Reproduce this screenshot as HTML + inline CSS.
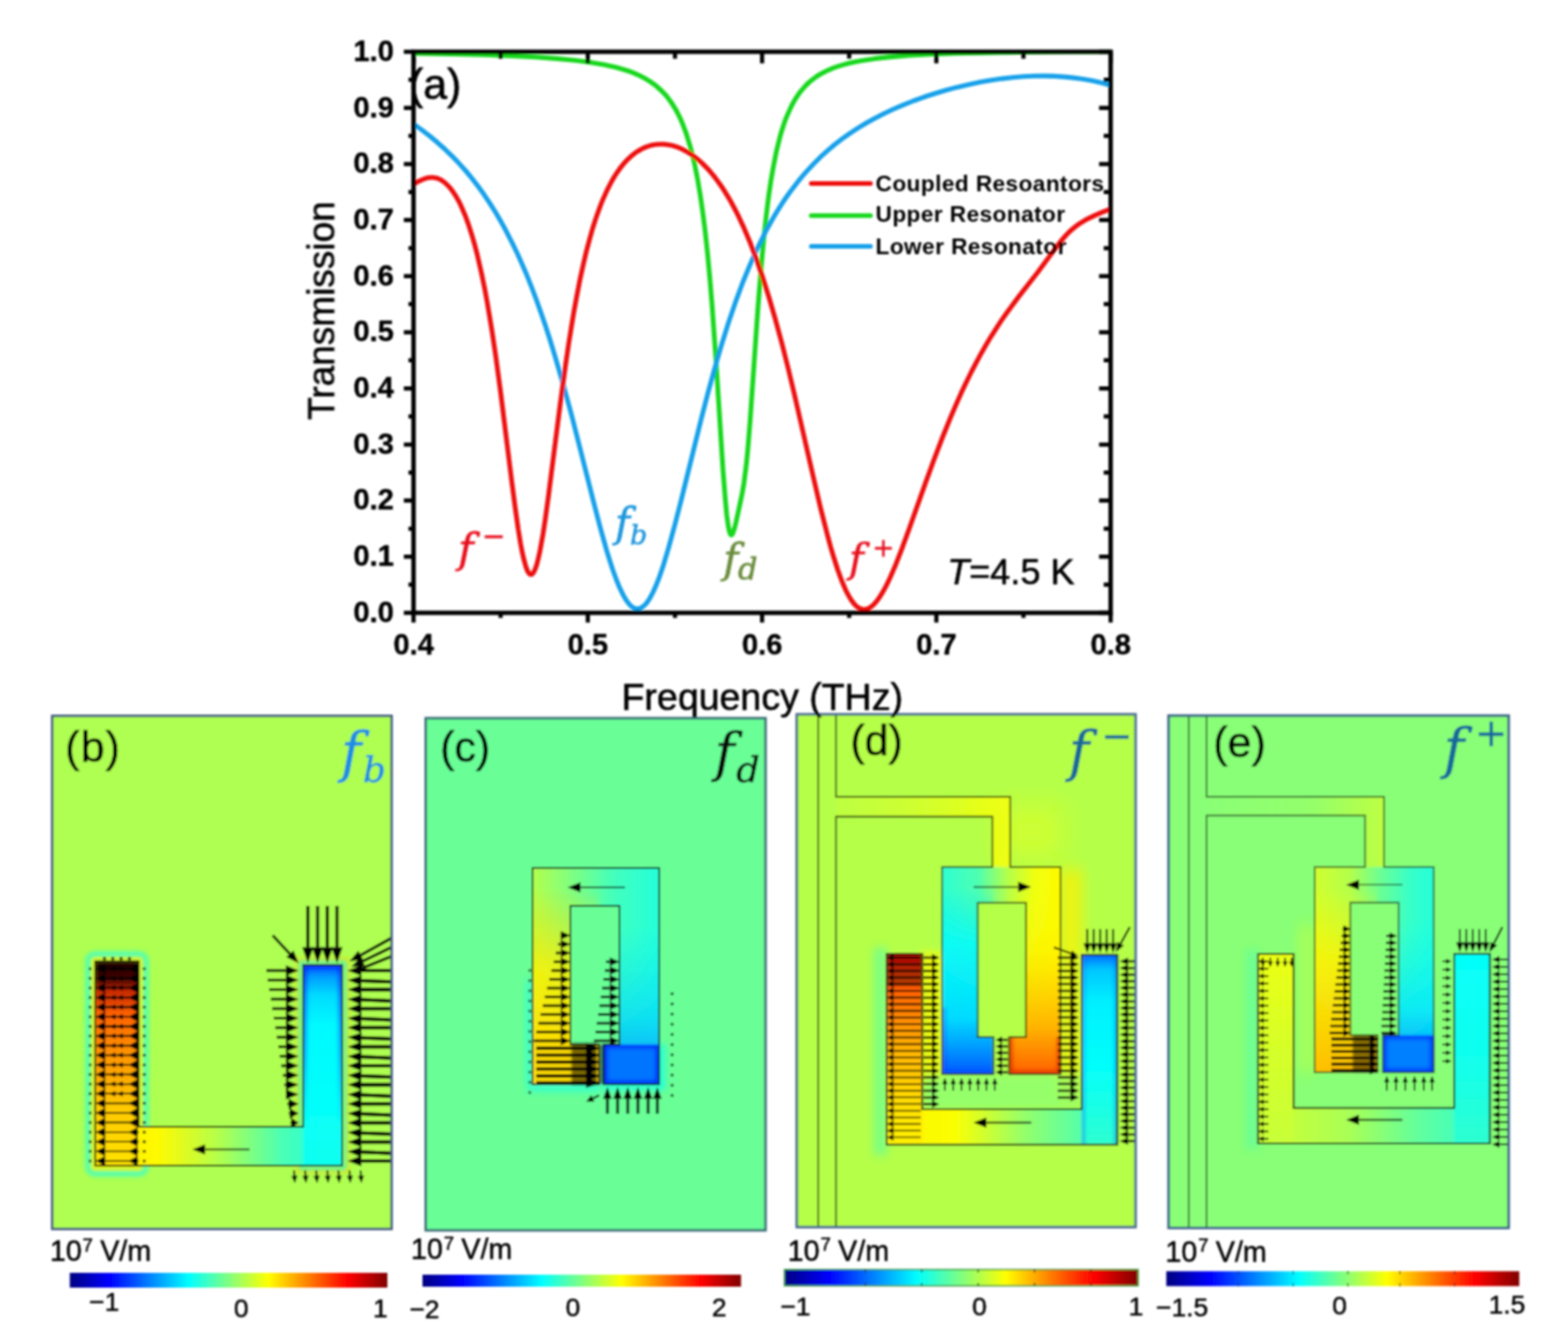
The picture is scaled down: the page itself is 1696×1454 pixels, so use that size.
<!DOCTYPE html><html><head><meta charset="utf-8"><title>Transmission figure</title><style>html,body{margin:0;padding:0;background:#fff;overflow:hidden}svg{display:block}</style></head><body><svg width="1696" height="1454" viewBox="0 0 1696 1454"><defs><linearGradient id="jetg" x1="0" x2="1" y1="0" y2="0"><stop offset="0.000" stop-color="#000080"/><stop offset="0.062" stop-color="#0000bf"/><stop offset="0.125" stop-color="#0000ff"/><stop offset="0.188" stop-color="#0040ff"/><stop offset="0.250" stop-color="#0080ff"/><stop offset="0.312" stop-color="#00bfff"/><stop offset="0.375" stop-color="#00ffff"/><stop offset="0.438" stop-color="#40ffbf"/><stop offset="0.500" stop-color="#80ff80"/><stop offset="0.562" stop-color="#bfff40"/><stop offset="0.625" stop-color="#ffff00"/><stop offset="0.688" stop-color="#ffbf00"/><stop offset="0.750" stop-color="#ff8000"/><stop offset="0.812" stop-color="#ff4000"/><stop offset="0.875" stop-color="#ff0000"/><stop offset="0.938" stop-color="#bf0000"/><stop offset="1.000" stop-color="#800000"/></linearGradient><clipPath id="plotclip"><rect x="447.3" y="56.0" width="754.0" height="607.0"/></clipPath><filter id="bl1" x="-40%" y="-40%" width="180%" height="180%"><feGaussianBlur stdDeviation="1.0"/></filter><filter id="bl2" x="-40%" y="-40%" width="180%" height="180%"><feGaussianBlur stdDeviation="2"/></filter><filter id="bl3" x="-40%" y="-40%" width="180%" height="180%"><feGaussianBlur stdDeviation="3"/></filter><filter id="bl4" x="-40%" y="-40%" width="180%" height="180%"><feGaussianBlur stdDeviation="4"/></filter><filter id="bl8" x="-40%" y="-40%" width="180%" height="180%"><feGaussianBlur stdDeviation="8"/></filter><filter id="bl14" x="-40%" y="-40%" width="180%" height="180%"><feGaussianBlur stdDeviation="14"/></filter><clipPath id="clipb"><rect x="56.5" y="774.5" width="367.0" height="555.0"/></clipPath><clipPath id="clipc"><rect x="460.5" y="777.0" width="367.5" height="554.0"/></clipPath><clipPath id="clipd"><rect x="861.8" y="772.8" width="366.4000000000001" height="554.7"/></clipPath><clipPath id="clipe"><rect x="1264.0" y="774.2" width="367.79999999999995" height="554.2"/></clipPath><linearGradient id="g1" gradientUnits="userSpaceOnUse" x1="0" y1="1040" x2="0" y2="1262"><stop offset="0" stop-color="#e50000" stop-opacity="1"/><stop offset="0.1" stop-color="#ff2400" stop-opacity="1"/><stop offset="0.25" stop-color="#ff6100" stop-opacity="1"/><stop offset="0.45" stop-color="#ff9400" stop-opacity="1"/><stop offset="0.7" stop-color="#ffc700" stop-opacity="1"/><stop offset="1" stop-color="#ffe500" stop-opacity="1"/></linearGradient><linearGradient id="g2" gradientUnits="userSpaceOnUse" x1="103" y1="0" x2="370" y2="0"><stop offset="0" stop-color="#ffe500" stop-opacity="1"/><stop offset="0.25" stop-color="#fffa00" stop-opacity="1"/><stop offset="0.5" stop-color="#b3ff4c" stop-opacity="1"/><stop offset="0.75" stop-color="#4dffb2" stop-opacity="1"/><stop offset="1" stop-color="#0ffff0" stop-opacity="1"/></linearGradient><linearGradient id="g3" gradientUnits="userSpaceOnUse" x1="0" y1="1044" x2="0" y2="1261"><stop offset="0" stop-color="#004dff" stop-opacity="1"/><stop offset="0.06" stop-color="#009eff" stop-opacity="1"/><stop offset="0.15" stop-color="#00dbff" stop-opacity="1"/><stop offset="0.3" stop-color="#00faff" stop-opacity="1"/><stop offset="0.7" stop-color="#05fffa" stop-opacity="1"/><stop offset="1" stop-color="#0ffff0" stop-opacity="1"/></linearGradient><linearGradient id="fadeB" x1="0" y1="0" x2="0" y2="1"><stop offset="0" stop-color="#fff"/><stop offset="0.5" stop-color="#fff" stop-opacity="0.6"/><stop offset="1" stop-color="#fff" stop-opacity="0"/></linearGradient><mask id="mB" maskUnits="userSpaceOnUse" x="320" y="1040" width="60" height="180"><rect x="320" y="1040" width="60" height="175" fill="url(#fadeB)"/></mask><clipPath id="c1"><path d="M328,1044 h42 v217 h-42 Z"/></clipPath><clipPath id="c2"><path d="M328,1044 h42 v30 h-42 Z"/></clipPath><linearGradient id="bDark" x1="0" y1="0" x2="0" y2="1"><stop offset="0" stop-color="#000" stop-opacity="0.88"/><stop offset="0.15" stop-color="#000" stop-opacity="0.72"/><stop offset="0.25" stop-color="#000" stop-opacity="0.22"/><stop offset="0.45" stop-color="#000" stop-opacity="0"/><stop offset="1" stop-color="#000" stop-opacity="0"/></linearGradient><clipPath id="c3"><path d="M576,939 H713 V1173 H653 V1130 H670 V980 H617 V1130 H648 V1173 H576 Z"/></clipPath><linearGradient id="g4" gradientUnits="userSpaceOnUse" x1="576" y1="0" x2="713" y2="0"><stop offset="0" stop-color="#b3ff4c" stop-opacity="1"/><stop offset="0.3" stop-color="#80ff80" stop-opacity="1"/><stop offset="0.65" stop-color="#42ffbd" stop-opacity="1"/><stop offset="1" stop-color="#24ffdb" stop-opacity="1"/></linearGradient><linearGradient id="g5" gradientUnits="userSpaceOnUse" x1="0" y1="960" x2="0" y2="1140"><stop offset="0" stop-color="#ffdb00" stop-opacity="0"/><stop offset="0.5" stop-color="#fff000" stop-opacity="0.8"/><stop offset="1" stop-color="#ffdb00" stop-opacity="1"/></linearGradient><linearGradient id="g6" gradientUnits="userSpaceOnUse" x1="0" y1="1000" x2="0" y2="1173"><stop offset="0" stop-color="#00f0ff" stop-opacity="0"/><stop offset="0.6" stop-color="#00d1ff" stop-opacity="0.7"/><stop offset="1" stop-color="#008aff" stop-opacity="1"/></linearGradient><clipPath id="c4"><path d="M653,1130 h60 v43 h-60 Z"/></clipPath><clipPath id="c5"><path d="M670,1060 h43 v113 h-43 Z"/></clipPath><clipPath id="c6"><path d="M1019,938 H1147.2 V1162 H1091.5 V1122 H1109.7 V976.6 H1057.5 V1122 H1074.5 V1162 H1019 Z"/></clipPath><linearGradient id="g7" gradientUnits="userSpaceOnUse" x1="904" y1="0" x2="1093" y2="0"><stop offset="0" stop-color="#bdff42" stop-opacity="1"/><stop offset="0.5" stop-color="#d1ff2e" stop-opacity="1"/><stop offset="1" stop-color="#f0ff0f" stop-opacity="1"/></linearGradient><linearGradient id="g8" gradientUnits="userSpaceOnUse" x1="0" y1="1032" x2="0" y2="1238"><stop offset="0" stop-color="#fa0000" stop-opacity="1"/><stop offset="0.08" stop-color="#ff3800" stop-opacity="1"/><stop offset="0.25" stop-color="#ff7500" stop-opacity="1"/><stop offset="0.5" stop-color="#ffb300" stop-opacity="1"/><stop offset="0.8" stop-color="#ffe000" stop-opacity="1"/><stop offset="1" stop-color="#fff000" stop-opacity="1"/></linearGradient><linearGradient id="g9" gradientUnits="userSpaceOnUse" x1="959" y1="0" x2="1208" y2="0"><stop offset="0" stop-color="#fff000" stop-opacity="1"/><stop offset="0.3" stop-color="#faff05" stop-opacity="1"/><stop offset="0.6" stop-color="#94ff6b" stop-opacity="1"/><stop offset="1" stop-color="#2effd1" stop-opacity="1"/></linearGradient><linearGradient id="g10" gradientUnits="userSpaceOnUse" x1="0" y1="1033" x2="0" y2="1238"><stop offset="0" stop-color="#0075ff" stop-opacity="1"/><stop offset="0.08" stop-color="#00c7ff" stop-opacity="1"/><stop offset="0.25" stop-color="#00f0ff" stop-opacity="1"/><stop offset="0.6" stop-color="#05fffa" stop-opacity="1"/><stop offset="1" stop-color="#2effd1" stop-opacity="1"/></linearGradient><clipPath id="c7"><path d="M1170,1033 h38.5 v205 h-38.5 Z"/></clipPath><linearGradient id="g11" gradientUnits="userSpaceOnUse" x1="1019" y1="0" x2="1147.2" y2="0"><stop offset="0" stop-color="#2effd1" stop-opacity="1"/><stop offset="0.3" stop-color="#4dffb2" stop-opacity="1"/><stop offset="0.55" stop-color="#b3ff4c" stop-opacity="1"/><stop offset="0.78" stop-color="#f0ff0f" stop-opacity="1"/><stop offset="1" stop-color="#fffa00" stop-opacity="1"/></linearGradient><linearGradient id="g12" gradientUnits="userSpaceOnUse" x1="0" y1="960" x2="0" y2="1162"><stop offset="0" stop-color="#00f0ff" stop-opacity="0"/><stop offset="0.3" stop-color="#00faff" stop-opacity="0.8"/><stop offset="0.7" stop-color="#00dbff" stop-opacity="1"/><stop offset="0.85" stop-color="#009eff" stop-opacity="1"/><stop offset="1" stop-color="#0057ff" stop-opacity="1"/></linearGradient><linearGradient id="g13" gradientUnits="userSpaceOnUse" x1="0" y1="960" x2="0" y2="1162"><stop offset="0" stop-color="#faff05" stop-opacity="0"/><stop offset="0.35" stop-color="#fff000" stop-opacity="0.7"/><stop offset="0.75" stop-color="#ffb300" stop-opacity="1"/><stop offset="1" stop-color="#ff6100" stop-opacity="1"/></linearGradient><clipPath id="c8"><path d="M1019,1090 h55.5 v72 h-55.5 Z"/></clipPath><clipPath id="c9"><path d="M1019,1122 h55.5 v40 h-55.5 Z"/></clipPath><clipPath id="c10"><path d="M1091.5,1122 h55.7 v40 h-55.7 Z"/></clipPath><clipPath id="c11"><path d="M1422,938 H1550.7 V1160 H1495.8 V1120 H1512.8 V976.5 H1460.6 V1120 H1490 V1160 H1422 Z"/></clipPath><linearGradient id="g14" gradientUnits="userSpaceOnUse" x1="1305" y1="0" x2="1497" y2="0"><stop offset="0" stop-color="#8aff75" stop-opacity="1"/><stop offset="0.6" stop-color="#94ff6b" stop-opacity="1"/><stop offset="1" stop-color="#bdff42" stop-opacity="1"/></linearGradient><linearGradient id="g15" gradientUnits="userSpaceOnUse" x1="0" y1="1032" x2="0" y2="1237"><stop offset="0" stop-color="#ebff14" stop-opacity="1"/><stop offset="0.5" stop-color="#d6ff29" stop-opacity="1"/><stop offset="1" stop-color="#c7ff38" stop-opacity="1"/></linearGradient><linearGradient id="g16" gradientUnits="userSpaceOnUse" x1="1360" y1="0" x2="1611" y2="0"><stop offset="0" stop-color="#d1ff2e" stop-opacity="1"/><stop offset="0.4" stop-color="#a8ff57" stop-opacity="1"/><stop offset="0.7" stop-color="#61ff9e" stop-opacity="1"/><stop offset="1" stop-color="#2effd1" stop-opacity="1"/></linearGradient><linearGradient id="g17" gradientUnits="userSpaceOnUse" x1="0" y1="1032" x2="0" y2="1237"><stop offset="0" stop-color="#05fffa" stop-opacity="1"/><stop offset="0.5" stop-color="#0ffff0" stop-opacity="1"/><stop offset="1" stop-color="#2effd1" stop-opacity="1"/></linearGradient><linearGradient id="g18" gradientUnits="userSpaceOnUse" x1="1422" y1="0" x2="1550.7" y2="0"><stop offset="0" stop-color="#d1ff2e" stop-opacity="1"/><stop offset="0.3" stop-color="#b3ff4c" stop-opacity="1"/><stop offset="0.55" stop-color="#6bff94" stop-opacity="1"/><stop offset="0.8" stop-color="#38ffc7" stop-opacity="1"/><stop offset="1" stop-color="#24ffdb" stop-opacity="1"/></linearGradient><linearGradient id="g19" gradientUnits="userSpaceOnUse" x1="0" y1="960" x2="0" y2="1160"><stop offset="0" stop-color="#fffa00" stop-opacity="0"/><stop offset="0.4" stop-color="#fff000" stop-opacity="0.8"/><stop offset="1" stop-color="#ffbd00" stop-opacity="1"/></linearGradient><linearGradient id="g20" gradientUnits="userSpaceOnUse" x1="0" y1="990" x2="0" y2="1160"><stop offset="0" stop-color="#05fffa" stop-opacity="0"/><stop offset="0.6" stop-color="#00e5ff" stop-opacity="0.8"/><stop offset="1" stop-color="#008aff" stop-opacity="1"/></linearGradient><clipPath id="c12"><path d="M1495.8,1120 h55 v40 h-55 Z"/></clipPath><filter id="soft" x="0" y="0" width="1696" height="1454" filterUnits="userSpaceOnUse"><feGaussianBlur stdDeviation="0.8"/></filter></defs><rect width="1696" height="1454" fill="#fff"/><g filter="url(#soft)"><rect x="56.5" y="774.5" width="367.0" height="555.0" fill="#aeff51"/>
<rect x="460.5" y="777.0" width="367.5" height="554.0" fill="#69ff96"/>
<rect x="861.8" y="772.8" width="366.4000000000001" height="554.7" fill="#b5ff4a"/>
<rect x="1264.0" y="774.2" width="367.79999999999995" height="554.2" fill="#88ff77"/>
<g clip-path="url(#clipb)"><g filter="url(#bl1)">
<rect x="96" y="1033" width="61" height="236" rx="6" fill="none" stroke="#1affe5" stroke-width="6" filter="url(#bl2)" opacity="0.85"/>
<rect x="101" y="1038" width="51" height="226" fill="none" stroke="#fff000" stroke-width="4" filter="url(#bl2)"/>
<rect x="323" y="1039" width="52" height="227" fill="none" stroke="#ffdb00" stroke-width="5" filter="url(#bl2)" opacity="0.9"/>
<rect x="325" y="1041" width="48" height="223" fill="none" stroke="#05fffa" stroke-width="3" filter="url(#bl2)" opacity="0.9"/>
<rect x="103" y="1040" width="47" height="222" fill="url(#g1)"/>
<rect x="149" y="1219" width="180" height="42" fill="url(#g2)"/>
<rect x="328" y="1044" width="42" height="217" fill="url(#g3)"/>
<g mask="url(#mB)">
<g clip-path="url(#c1)"><path d="M322,1044 H376 M328,1038 V1267 M370,1038 V1267" fill="none" stroke="#000fff" stroke-width="6" filter="url(#bl2)" opacity="0.85"/></g>
</g>
<g clip-path="url(#c2)"><path d="M322,1044 H376" fill="none" stroke="#000fff" stroke-width="10" filter="url(#bl2)" opacity="0.8"/></g>
<rect x="103" y="1040" width="47" height="130" fill="url(#bDark)"/>
</g>
<path d="M103,1040 H150 V1219 H328 V1044 H370 V1261 H103 Z" fill="none" stroke="#111" stroke-width="1.8"/>
<path d="M148.0,1048.0 L113.8,1048.0" stroke="#000" stroke-width="2.295"/><path d="M103.5,1048.0 L113.8,1042.6 L113.8,1053.4 Z" fill="#000"/>
<path d="M150.0,1048.0 L148.9,1048.0" stroke="#000" stroke-width="2.7"/><path d="M139.0,1048.0 L148.9,1042.6 L148.9,1053.4 Z" fill="#000"/>
<path d="M118,1048.0 L125,1045.0 L125,1051.0 Z M126,1048.0 L133,1045.0 L133,1051.0 Z" fill="#000"/>
<circle cx="97.5" cy="1048.0" r="1.6" fill="#000"/><circle cx="156" cy="1048.0" r="1.6" fill="#000"/>
<path d="M148.0,1058.4 L113.8,1058.4" stroke="#000" stroke-width="2.2545"/><path d="M103.5,1058.4 L113.8,1053.0 L113.8,1063.8 Z" fill="#000"/>
<path d="M150.0,1058.4 L148.9,1058.4" stroke="#000" stroke-width="2.7"/><path d="M139.0,1058.4 L148.9,1053.0 L148.9,1063.8 Z" fill="#000"/>
<path d="M118,1058.4 L125,1055.4 L125,1061.4 Z M126,1058.4 L133,1055.4 L133,1061.4 Z" fill="#000"/>
<circle cx="97.5" cy="1058.4" r="1.6" fill="#000"/><circle cx="156" cy="1058.4" r="1.6" fill="#000"/>
<path d="M148.0,1068.8 L113.8,1068.8" stroke="#000" stroke-width="2.214"/><path d="M103.5,1068.8 L113.8,1063.4 L113.8,1074.2 Z" fill="#000"/>
<path d="M150.0,1068.8 L148.9,1068.8" stroke="#000" stroke-width="2.7"/><path d="M139.0,1068.8 L148.9,1063.4 L148.9,1074.2 Z" fill="#000"/>
<path d="M118,1068.8 L125,1065.8 L125,1071.8 Z M126,1068.8 L133,1065.8 L133,1071.8 Z" fill="#000"/>
<circle cx="97.5" cy="1068.8" r="1.6" fill="#000"/><circle cx="156" cy="1068.8" r="1.6" fill="#000"/>
<path d="M148.0,1079.2 L113.8,1079.2" stroke="#000" stroke-width="2.1734999999999998"/><path d="M103.5,1079.2 L113.8,1073.8 L113.8,1084.6 Z" fill="#000"/>
<path d="M150.0,1079.2 L148.9,1079.2" stroke="#000" stroke-width="2.7"/><path d="M139.0,1079.2 L148.9,1073.8 L148.9,1084.6 Z" fill="#000"/>
<path d="M118,1079.2 L125,1076.2 L125,1082.2 Z M126,1079.2 L133,1076.2 L133,1082.2 Z" fill="#000"/>
<circle cx="97.5" cy="1079.2" r="1.6" fill="#000"/><circle cx="156" cy="1079.2" r="1.6" fill="#000"/>
<path d="M148.0,1089.6 L113.8,1089.6" stroke="#000" stroke-width="2.1330000000000005"/><path d="M103.5,1089.6 L113.8,1084.2 L113.8,1095.0 Z" fill="#000"/>
<path d="M150.0,1089.6 L148.9,1089.6" stroke="#000" stroke-width="2.7"/><path d="M139.0,1089.6 L148.9,1084.2 L148.9,1095.0 Z" fill="#000"/>
<path d="M118,1089.6 L125,1086.6 L125,1092.6 Z M126,1089.6 L133,1086.6 L133,1092.6 Z" fill="#000"/>
<circle cx="97.5" cy="1089.6" r="1.6" fill="#000"/><circle cx="156" cy="1089.6" r="1.6" fill="#000"/>
<path d="M148.0,1100.0 L113.8,1100.0" stroke="#000" stroke-width="2.0925000000000002"/><path d="M103.5,1100.0 L113.8,1094.6 L113.8,1105.4 Z" fill="#000"/>
<path d="M150.0,1100.0 L148.9,1100.0" stroke="#000" stroke-width="2.7"/><path d="M139.0,1100.0 L148.9,1094.6 L148.9,1105.4 Z" fill="#000"/>
<path d="M118,1100.0 L125,1097.0 L125,1103.0 Z M126,1100.0 L133,1097.0 L133,1103.0 Z" fill="#000"/>
<circle cx="97.5" cy="1100.0" r="1.6" fill="#000"/><circle cx="156" cy="1100.0" r="1.6" fill="#000"/>
<path d="M148.0,1110.4 L113.8,1110.4" stroke="#000" stroke-width="2.052"/><path d="M103.5,1110.4 L113.8,1105.0 L113.8,1115.8 Z" fill="#000"/>
<path d="M150.0,1110.4 L148.9,1110.4" stroke="#000" stroke-width="2.7"/><path d="M139.0,1110.4 L148.9,1105.0 L148.9,1115.8 Z" fill="#000"/>
<path d="M118,1110.4 L125,1107.4 L125,1113.4 Z M126,1110.4 L133,1107.4 L133,1113.4 Z" fill="#000"/>
<circle cx="97.5" cy="1110.4" r="1.6" fill="#000"/><circle cx="156" cy="1110.4" r="1.6" fill="#000"/>
<path d="M148.0,1120.8 L113.8,1120.8" stroke="#000" stroke-width="2.0115000000000003"/><path d="M103.5,1120.8 L113.8,1115.4 L113.8,1126.2 Z" fill="#000"/>
<path d="M150.0,1120.8 L148.9,1120.8" stroke="#000" stroke-width="2.7"/><path d="M139.0,1120.8 L148.9,1115.4 L148.9,1126.2 Z" fill="#000"/>
<path d="M118,1120.8 L125,1117.8 L125,1123.8 Z M126,1120.8 L133,1117.8 L133,1123.8 Z" fill="#000"/>
<circle cx="97.5" cy="1120.8" r="1.6" fill="#000"/><circle cx="156" cy="1120.8" r="1.6" fill="#000"/>
<path d="M148.0,1131.2 L113.8,1131.2" stroke="#000" stroke-width="1.971"/><path d="M103.5,1131.2 L113.8,1125.8 L113.8,1136.6 Z" fill="#000"/>
<path d="M150.0,1131.2 L148.9,1131.2" stroke="#000" stroke-width="2.7"/><path d="M139.0,1131.2 L148.9,1125.8 L148.9,1136.6 Z" fill="#000"/>
<path d="M118,1131.2 L125,1128.2 L125,1134.2 Z M126,1131.2 L133,1128.2 L133,1134.2 Z" fill="#000"/>
<circle cx="97.5" cy="1131.2" r="1.6" fill="#000"/><circle cx="156" cy="1131.2" r="1.6" fill="#000"/>
<path d="M148.0,1141.6 L113.8,1141.6" stroke="#000" stroke-width="1.9305"/><path d="M103.5,1141.6 L113.8,1136.2 L113.8,1147.0 Z" fill="#000"/>
<path d="M150.0,1141.6 L148.9,1141.6" stroke="#000" stroke-width="2.7"/><path d="M139.0,1141.6 L148.9,1136.2 L148.9,1147.0 Z" fill="#000"/>
<path d="M118,1141.6 L125,1138.6 L125,1144.6 Z M126,1141.6 L133,1138.6 L133,1144.6 Z" fill="#000"/>
<circle cx="97.5" cy="1141.6" r="1.6" fill="#000"/><circle cx="156" cy="1141.6" r="1.6" fill="#000"/>
<path d="M148.0,1152.0 L113.8,1152.0" stroke="#000" stroke-width="1.89"/><path d="M103.5,1152.0 L113.8,1146.6 L113.8,1157.4 Z" fill="#000"/>
<path d="M150.0,1152.0 L148.9,1152.0" stroke="#000" stroke-width="2.7"/><path d="M139.0,1152.0 L148.9,1146.6 L148.9,1157.4 Z" fill="#000"/>
<path d="M118,1152.0 L125,1149.0 L125,1155.0 Z M126,1152.0 L133,1149.0 L133,1155.0 Z" fill="#000"/>
<circle cx="97.5" cy="1152.0" r="1.6" fill="#000"/><circle cx="156" cy="1152.0" r="1.6" fill="#000"/>
<path d="M148.0,1162.4 L113.8,1162.4" stroke="#000" stroke-width="1.8495"/><path d="M103.5,1162.4 L113.8,1157.0 L113.8,1167.8 Z" fill="#000"/>
<path d="M150.0,1162.4 L148.9,1162.4" stroke="#000" stroke-width="2.7"/><path d="M139.0,1162.4 L148.9,1157.0 L148.9,1167.8 Z" fill="#000"/>
<path d="M118,1162.4 L125,1159.4 L125,1165.4 Z M126,1162.4 L133,1159.4 L133,1165.4 Z" fill="#000"/>
<circle cx="97.5" cy="1162.4" r="1.6" fill="#000"/><circle cx="156" cy="1162.4" r="1.6" fill="#000"/>
<path d="M148.0,1172.8 L113.8,1172.8" stroke="#000" stroke-width="1.809"/><path d="M103.5,1172.8 L113.8,1167.4 L113.8,1178.2 Z" fill="#000"/>
<path d="M150.0,1172.8 L148.9,1172.8" stroke="#000" stroke-width="2.7"/><path d="M139.0,1172.8 L148.9,1167.4 L148.9,1178.2 Z" fill="#000"/>
<path d="M118,1172.8 L125,1169.8 L125,1175.8 Z M126,1172.8 L133,1169.8 L133,1175.8 Z" fill="#000"/>
<circle cx="97.5" cy="1172.8" r="1.6" fill="#000"/><circle cx="156" cy="1172.8" r="1.6" fill="#000"/>
<path d="M148.0,1183.2 L113.8,1183.2" stroke="#000" stroke-width="1.7685000000000002"/><path d="M103.5,1183.2 L113.8,1177.8 L113.8,1188.6 Z" fill="#000"/>
<path d="M150.0,1183.2 L148.9,1183.2" stroke="#000" stroke-width="2.7"/><path d="M139.0,1183.2 L148.9,1177.8 L148.9,1188.6 Z" fill="#000"/>
<path d="M118,1183.2 L125,1180.2 L125,1186.2 Z M126,1183.2 L133,1180.2 L133,1186.2 Z" fill="#000"/>
<circle cx="97.5" cy="1183.2" r="1.6" fill="#000"/><circle cx="156" cy="1183.2" r="1.6" fill="#000"/>
<path d="M148.0,1193.6 L113.8,1193.6" stroke="#000" stroke-width="1.7280000000000002"/><path d="M103.5,1193.6 L113.8,1188.2 L113.8,1199.0 Z" fill="#000"/>
<path d="M150.0,1193.6 L148.9,1193.6" stroke="#000" stroke-width="2.7"/><path d="M139.0,1193.6 L148.9,1188.2 L148.9,1199.0 Z" fill="#000"/>
<circle cx="97.5" cy="1193.6" r="1.6" fill="#000"/><circle cx="156" cy="1193.6" r="1.6" fill="#000"/>
<path d="M148.0,1204.0 L113.8,1204.0" stroke="#000" stroke-width="1.6875"/><path d="M103.5,1204.0 L113.8,1198.6 L113.8,1209.4 Z" fill="#000"/>
<path d="M150.0,1204.0 L148.9,1204.0" stroke="#000" stroke-width="2.7"/><path d="M139.0,1204.0 L148.9,1198.6 L148.9,1209.4 Z" fill="#000"/>
<circle cx="97.5" cy="1204.0" r="1.6" fill="#000"/><circle cx="156" cy="1204.0" r="1.6" fill="#000"/>
<path d="M148.0,1214.4 L113.8,1214.4" stroke="#000" stroke-width="1.647"/><path d="M103.5,1214.4 L113.8,1209.0 L113.8,1219.8 Z" fill="#000"/>
<path d="M150.0,1214.4 L148.9,1214.4" stroke="#000" stroke-width="2.7"/><path d="M139.0,1214.4 L148.9,1209.0 L148.9,1219.8 Z" fill="#000"/>
<circle cx="97.5" cy="1214.4" r="1.6" fill="#000"/><circle cx="156" cy="1214.4" r="1.6" fill="#000"/>
<path d="M148.0,1224.8 L113.8,1224.8" stroke="#000" stroke-width="1.6065"/><path d="M103.5,1224.8 L113.8,1219.4 L113.8,1230.2 Z" fill="#000"/>
<path d="M150.0,1224.8 L148.9,1224.8" stroke="#000" stroke-width="2.7"/><path d="M139.0,1224.8 L148.9,1219.4 L148.9,1230.2 Z" fill="#000"/>
<circle cx="97.5" cy="1224.8" r="1.6" fill="#000"/><circle cx="156" cy="1224.8" r="1.6" fill="#000"/>
<path d="M148.0,1235.2 L113.8,1235.2" stroke="#000" stroke-width="1.566"/><path d="M103.5,1235.2 L113.8,1229.8 L113.8,1240.6 Z" fill="#000"/>
<path d="M150.0,1235.2 L148.9,1235.2" stroke="#000" stroke-width="2.7"/><path d="M139.0,1235.2 L148.9,1229.8 L148.9,1240.6 Z" fill="#000"/>
<circle cx="97.5" cy="1235.2" r="1.6" fill="#000"/><circle cx="156" cy="1235.2" r="1.6" fill="#000"/>
<path d="M148.0,1245.6 L113.8,1245.6" stroke="#000" stroke-width="1.5254999999999999"/><path d="M103.5,1245.6 L113.8,1240.2 L113.8,1251.0 Z" fill="#000"/>
<path d="M150.0,1245.6 L148.9,1245.6" stroke="#000" stroke-width="2.7"/><path d="M139.0,1245.6 L148.9,1240.2 L148.9,1251.0 Z" fill="#000"/>
<circle cx="97.5" cy="1245.6" r="1.6" fill="#000"/><circle cx="156" cy="1245.6" r="1.6" fill="#000"/>
<path d="M148.0,1256.0 L113.8,1256.0" stroke="#000" stroke-width="1.4850000000000003"/><path d="M103.5,1256.0 L113.8,1250.6 L113.8,1261.4 Z" fill="#000"/>
<path d="M150.0,1256.0 L148.9,1256.0" stroke="#000" stroke-width="2.7"/><path d="M139.0,1256.0 L148.9,1250.6 L148.9,1261.4 Z" fill="#000"/>
<circle cx="97.5" cy="1256.0" r="1.6" fill="#000"/><circle cx="156" cy="1256.0" r="1.6" fill="#000"/>
<circle cx="113" cy="1037" r="1.8" fill="#000"/>
<circle cx="122" cy="1037" r="1.8" fill="#000"/>
<circle cx="131" cy="1037" r="1.8" fill="#000"/>
<circle cx="140" cy="1037" r="1.8" fill="#000"/>
<path d="M333.0,980.0 L333.0,1024.8" stroke="#000" stroke-width="3.5100000000000002"/><path d="M333.0,1042.0 L326.9,1024.8 L339.1,1024.8 Z" fill="#000"/>
<path d="M343.5,980.0 L343.5,1024.8" stroke="#000" stroke-width="3.5100000000000002"/><path d="M343.5,1042.0 L337.4,1024.8 L349.6,1024.8 Z" fill="#000"/>
<path d="M354.0,980.0 L354.0,1024.8" stroke="#000" stroke-width="3.5100000000000002"/><path d="M354.0,1042.0 L347.9,1024.8 L360.1,1024.8 Z" fill="#000"/>
<path d="M364.5,980.0 L364.5,1024.8" stroke="#000" stroke-width="3.5100000000000002"/><path d="M364.5,1042.0 L358.4,1024.8 L370.6,1024.8 Z" fill="#000"/>
<path d="M295.0,1012.0 L313.6,1031.9" stroke="#000" stroke-width="2.9700000000000006"/><path d="M323.0,1042.0 L309.6,1035.6 L317.5,1028.2 Z" fill="#000"/>
<path d="M425.0,1014.0 L390.1,1033.3" stroke="#000" stroke-width="3.24"/><path d="M378.0,1040.0 L387.5,1028.6 L392.7,1038.0 Z" fill="#000"/>
<path d="M425.0,1024.0 L392.4,1039.9" stroke="#000" stroke-width="3.24"/><path d="M380.0,1046.0 L390.0,1035.1 L394.8,1044.8 Z" fill="#000"/>
<path d="M425.0,1034.0 L392.8,1046.9" stroke="#000" stroke-width="3.24"/><path d="M380.0,1052.0 L390.8,1041.9 L394.8,1051.9 Z" fill="#000"/>
<path d="M288.0,1050.0 L309.2,1050.0" stroke="#000" stroke-width="2.9700000000000006"/><path d="M323.0,1050.0 L309.2,1055.7 L309.2,1044.3 Z" fill="#000"/>
<path d="M289.6,1060.3 L309.2,1060.3" stroke="#000" stroke-width="2.9700000000000006"/><path d="M323.0,1060.3 L309.2,1066.0 L309.2,1054.6 Z" fill="#000"/>
<path d="M291.2,1070.6 L309.2,1070.6" stroke="#000" stroke-width="2.9700000000000006"/><path d="M323.0,1070.6 L309.2,1076.3 L309.2,1064.9 Z" fill="#000"/>
<path d="M292.9,1080.9 L309.2,1080.9" stroke="#000" stroke-width="2.9700000000000006"/><path d="M323.0,1080.9 L309.2,1086.6 L309.2,1075.2 Z" fill="#000"/>
<path d="M294.5,1091.2 L309.2,1091.2" stroke="#000" stroke-width="2.9700000000000006"/><path d="M323.0,1091.2 L309.2,1096.9 L309.2,1085.5 Z" fill="#000"/>
<path d="M296.1,1101.5 L309.2,1101.5" stroke="#000" stroke-width="2.9700000000000006"/><path d="M323.0,1101.5 L309.2,1107.2 L309.2,1095.8 Z" fill="#000"/>
<path d="M297.8,1111.8 L309.2,1111.8" stroke="#000" stroke-width="2.9700000000000006"/><path d="M323.0,1111.8 L309.2,1117.5 L309.2,1106.1 Z" fill="#000"/>
<path d="M299.4,1122.1 L309.2,1122.1" stroke="#000" stroke-width="2.9700000000000006"/><path d="M323.0,1122.1 L309.2,1127.8 L309.2,1116.4 Z" fill="#000"/>
<path d="M301.0,1132.4 L309.2,1132.4" stroke="#000" stroke-width="2.9700000000000006"/><path d="M323.0,1132.4 L309.2,1138.1 L309.2,1126.7 Z" fill="#000"/>
<path d="M302.6,1142.7 L309.2,1142.7" stroke="#000" stroke-width="2.9700000000000006"/><path d="M323.0,1142.7 L309.2,1148.4 L309.2,1137.0 Z" fill="#000"/>
<path d="M304.2,1153.0 L309.2,1153.0" stroke="#000" stroke-width="2.9700000000000006"/><path d="M323.0,1153.0 L309.2,1158.7 L309.2,1147.3 Z" fill="#000"/>
<path d="M305.9,1163.3 L309.2,1163.3" stroke="#000" stroke-width="2.9700000000000006"/><path d="M323.0,1163.3 L309.2,1169.0 L309.2,1157.6 Z" fill="#000"/>
<path d="M307.5,1173.6 L309.2,1173.6" stroke="#000" stroke-width="2.9700000000000006"/><path d="M323.0,1173.6 L309.2,1179.3 L309.2,1167.9 Z" fill="#000"/>
<path d="M309.1,1183.9 L309.2,1183.9" stroke="#000" stroke-width="2.9700000000000006"/><path d="M323.0,1183.9 L309.2,1189.6 L309.2,1178.2 Z" fill="#000"/>
<path d="M310.8,1194.2 L312.0,1194.2" stroke="#000" stroke-width="2.9700000000000006"/><path d="M323.0,1194.2 L312.0,1199.9 L312.0,1188.5 Z" fill="#000"/>
<path d="M312.4,1204.5 L313.4,1204.5" stroke="#000" stroke-width="2.9700000000000006"/><path d="M323.0,1204.5 L313.4,1210.2 L313.4,1198.8 Z" fill="#000"/>
<path d="M314.0,1214.8 L314.9,1214.8" stroke="#000" stroke-width="2.9700000000000006"/><path d="M323.0,1214.8 L314.9,1220.5 L314.9,1209.1 Z" fill="#000"/>
<path d="M425.0,1050.0 L390.9,1050.0" stroke="#000" stroke-width="4.050000000000001"/><path d="M376.0,1050.0 L390.9,1044.3 L390.9,1055.7 Z" fill="#000"/>
<path d="M425.0,1062.3 L390.9,1060.9" stroke="#000" stroke-width="4.050000000000001"/><path d="M376.0,1060.3 L391.2,1055.2 L390.7,1066.6 Z" fill="#000"/>
<path d="M425.0,1070.6 L390.9,1070.6" stroke="#000" stroke-width="4.050000000000001"/><path d="M376.0,1070.6 L390.9,1064.9 L390.9,1076.3 Z" fill="#000"/>
<path d="M425.0,1082.9 L390.9,1081.5" stroke="#000" stroke-width="4.050000000000001"/><path d="M376.0,1080.9 L391.2,1075.8 L390.7,1087.2 Z" fill="#000"/>
<path d="M425.0,1091.2 L390.9,1091.2" stroke="#000" stroke-width="4.050000000000001"/><path d="M376.0,1091.2 L390.9,1085.5 L390.9,1096.9 Z" fill="#000"/>
<path d="M425.0,1103.5 L390.9,1102.1" stroke="#000" stroke-width="4.050000000000001"/><path d="M376.0,1101.5 L391.2,1096.4 L390.7,1107.8 Z" fill="#000"/>
<path d="M425.0,1111.8 L390.9,1111.8" stroke="#000" stroke-width="4.050000000000001"/><path d="M376.0,1111.8 L390.9,1106.1 L390.9,1117.5 Z" fill="#000"/>
<path d="M425.0,1124.1 L390.9,1122.7" stroke="#000" stroke-width="4.050000000000001"/><path d="M376.0,1122.1 L391.2,1117.0 L390.7,1128.4 Z" fill="#000"/>
<path d="M425.0,1132.4 L390.9,1132.4" stroke="#000" stroke-width="4.050000000000001"/><path d="M376.0,1132.4 L390.9,1126.7 L390.9,1138.1 Z" fill="#000"/>
<path d="M425.0,1144.7 L390.9,1143.3" stroke="#000" stroke-width="4.050000000000001"/><path d="M376.0,1142.7 L391.2,1137.6 L390.7,1149.0 Z" fill="#000"/>
<path d="M425.0,1153.0 L390.9,1153.0" stroke="#000" stroke-width="4.050000000000001"/><path d="M376.0,1153.0 L390.9,1147.3 L390.9,1158.7 Z" fill="#000"/>
<path d="M425.0,1165.3 L390.9,1163.9" stroke="#000" stroke-width="4.050000000000001"/><path d="M376.0,1163.3 L391.2,1158.2 L390.7,1169.6 Z" fill="#000"/>
<path d="M425.0,1173.6 L390.9,1173.6" stroke="#000" stroke-width="4.050000000000001"/><path d="M376.0,1173.6 L390.9,1167.9 L390.9,1179.3 Z" fill="#000"/>
<path d="M425.0,1185.9 L390.9,1184.5" stroke="#000" stroke-width="4.050000000000001"/><path d="M376.0,1183.9 L391.2,1178.8 L390.7,1190.2 Z" fill="#000"/>
<path d="M425.0,1194.2 L390.9,1194.2" stroke="#000" stroke-width="4.050000000000001"/><path d="M376.0,1194.2 L390.9,1188.5 L390.9,1199.9 Z" fill="#000"/>
<path d="M425.0,1206.5 L390.9,1205.1" stroke="#000" stroke-width="4.050000000000001"/><path d="M376.0,1204.5 L391.2,1199.4 L390.7,1210.8 Z" fill="#000"/>
<path d="M425.0,1214.8 L390.9,1214.8" stroke="#000" stroke-width="4.050000000000001"/><path d="M376.0,1214.8 L390.9,1209.1 L390.9,1220.5 Z" fill="#000"/>
<path d="M425.0,1227.1 L390.9,1225.7" stroke="#000" stroke-width="4.050000000000001"/><path d="M376.0,1225.1 L391.2,1220.0 L390.7,1231.4 Z" fill="#000"/>
<path d="M425.0,1235.4 L390.9,1235.4" stroke="#000" stroke-width="4.050000000000001"/><path d="M376.0,1235.4 L390.9,1229.7 L390.9,1241.1 Z" fill="#000"/>
<path d="M425.0,1247.7 L390.9,1246.3" stroke="#000" stroke-width="4.050000000000001"/><path d="M376.0,1245.7 L391.2,1240.6 L390.7,1252.0 Z" fill="#000"/>
<path d="M425.0,1256.0 L390.9,1256.0" stroke="#000" stroke-width="4.050000000000001"/><path d="M376.0,1256.0 L390.9,1250.3 L390.9,1261.7 Z" fill="#000"/>
<path d="M318.0,1266.0 L318.4,1272.0" stroke="#000" stroke-width="2.0250000000000004"/><path d="M319.0,1280.0 L315.1,1272.2 L321.8,1271.7 Z" fill="#000"/>
<path d="M330.0,1266.0 L330.4,1272.0" stroke="#000" stroke-width="2.0250000000000004"/><path d="M331.0,1280.0 L327.1,1272.2 L333.8,1271.7 Z" fill="#000"/>
<path d="M342.0,1266.0 L342.4,1272.0" stroke="#000" stroke-width="2.0250000000000004"/><path d="M343.0,1280.0 L339.1,1272.2 L345.8,1271.7 Z" fill="#000"/>
<path d="M354.0,1266.0 L354.4,1272.0" stroke="#000" stroke-width="2.0250000000000004"/><path d="M355.0,1280.0 L351.1,1272.2 L357.8,1271.7 Z" fill="#000"/>
<path d="M366.0,1266.0 L366.4,1272.0" stroke="#000" stroke-width="2.0250000000000004"/><path d="M367.0,1280.0 L363.1,1272.2 L369.8,1271.7 Z" fill="#000"/>
<path d="M378.0,1266.0 L378.4,1272.0" stroke="#000" stroke-width="2.0250000000000004"/><path d="M379.0,1280.0 L375.1,1272.2 L381.8,1271.7 Z" fill="#000"/>
<path d="M390.0,1266.0 L390.4,1272.0" stroke="#000" stroke-width="2.0250000000000004"/><path d="M391.0,1280.0 L387.1,1272.2 L393.8,1271.7 Z" fill="#000"/>
<path d="M270.0,1243.5 L222.0,1243.5" stroke="#000" stroke-width="1.8" stroke-opacity="0.7"/><path d="M208.0,1243.5 L222.0,1238.0 L222.0,1249.0 Z" fill="#000"/>
</g>
<g clip-path="url(#clipc)"><g filter="url(#bl1)">
<path d="M570,1060 V1180 H650 V1170 H578 V1060 Z" fill="#1affe5" filter="url(#bl4)" opacity="0.8"/>
<path d="M653,1176 H716 V1130" fill="none" stroke="#05fffa" stroke-width="6" filter="url(#bl3)" opacity="0.8"/>
<g clip-path="url(#c3)">
<rect x="576" y="939" width="137" height="234" fill="url(#g4)"/>
<rect x="576" y="939" width="72" height="234" fill="url(#g5)"/>
<rect x="653" y="980" width="60" height="193" fill="url(#g6)"/>
<rect x="653" y="1130" width="60" height="43" fill="#0075ff"/>
</g>
<g clip-path="url(#c4)"><path d="M647,1130 H719 M647,1173 H719 M653,1124 V1179 M713,1124 V1179" fill="none" stroke="#0000fa" stroke-width="6" filter="url(#bl2)" opacity="0.8"/></g>
<g clip-path="url(#c5)"><path d="M713,1054 V1179" fill="none" stroke="#004dff" stroke-width="4" filter="url(#bl2)" opacity="0.6"/></g>
<rect x="618" y="1128" width="28" height="46" fill="#000" opacity="0.5"/>
<rect x="648" y="1130" width="5" height="43" fill="#0a2a30" opacity="0.6"/>
</g>
<path d="M576,939 H713 V1173 H653 V1130 H670 V980 H617 V1130 H648 V1173 H576 Z" fill="none" stroke="#111" stroke-width="1.8"/>
<path d="M606.0,1012.0 L606.6,1012.0" stroke="#000" stroke-width="2.7"/><path d="M617.0,1012.0 L606.6,1016.7 L606.6,1007.3 Z" fill="#000"/>
<path d="M603.6,1021.5 L606.6,1021.5" stroke="#000" stroke-width="2.7"/><path d="M617.0,1021.5 L606.6,1026.2 L606.6,1016.8 Z" fill="#000"/>
<path d="M601.3,1031.0 L606.6,1031.0" stroke="#000" stroke-width="2.7"/><path d="M617.0,1031.0 L606.6,1035.7 L606.6,1026.3 Z" fill="#000"/>
<path d="M598.9,1040.5 L606.6,1040.5" stroke="#000" stroke-width="2.7"/><path d="M617.0,1040.5 L606.6,1045.2 L606.6,1035.8 Z" fill="#000"/>
<path d="M655.6,1040.5 L659.6,1040.5" stroke="#000" stroke-width="2.7"/><path d="M670.0,1040.5 L659.6,1045.2 L659.6,1035.8 Z" fill="#000"/>
<path d="M596.5,1050.0 L606.6,1050.0" stroke="#000" stroke-width="2.7"/><path d="M617.0,1050.0 L606.6,1054.7 L606.6,1045.3 Z" fill="#000"/>
<path d="M654.2,1050.0 L659.6,1050.0" stroke="#000" stroke-width="2.7"/><path d="M670.0,1050.0 L659.6,1054.7 L659.6,1045.3 Z" fill="#000"/>
<path d="M594.2,1059.5 L606.6,1059.5" stroke="#000" stroke-width="2.7"/><path d="M617.0,1059.5 L606.6,1064.2 L606.6,1054.8 Z" fill="#000"/>
<path d="M652.7,1059.5 L659.6,1059.5" stroke="#000" stroke-width="2.7"/><path d="M670.0,1059.5 L659.6,1064.2 L659.6,1054.8 Z" fill="#000"/>
<path d="M591.8,1069.0 L606.6,1069.0" stroke="#000" stroke-width="2.7"/><path d="M617.0,1069.0 L606.6,1073.7 L606.6,1064.3 Z" fill="#000"/>
<path d="M651.3,1069.0 L659.6,1069.0" stroke="#000" stroke-width="2.7"/><path d="M670.0,1069.0 L659.6,1073.7 L659.6,1064.3 Z" fill="#000"/>
<path d="M589.5,1078.5 L606.6,1078.5" stroke="#000" stroke-width="2.7"/><path d="M617.0,1078.5 L606.6,1083.2 L606.6,1073.8 Z" fill="#000"/>
<path d="M649.8,1078.5 L659.6,1078.5" stroke="#000" stroke-width="2.7"/><path d="M670.0,1078.5 L659.6,1083.2 L659.6,1073.8 Z" fill="#000"/>
<path d="M587.1,1088.0 L606.6,1088.0" stroke="#000" stroke-width="2.7"/><path d="M617.0,1088.0 L606.6,1092.7 L606.6,1083.3 Z" fill="#000"/>
<path d="M648.4,1088.0 L659.6,1088.0" stroke="#000" stroke-width="2.7"/><path d="M670.0,1088.0 L659.6,1092.7 L659.6,1083.3 Z" fill="#000"/>
<path d="M584.7,1097.5 L606.6,1097.5" stroke="#000" stroke-width="2.7"/><path d="M617.0,1097.5 L606.6,1102.2 L606.6,1092.8 Z" fill="#000"/>
<path d="M646.9,1097.5 L659.6,1097.5" stroke="#000" stroke-width="2.7"/><path d="M670.0,1097.5 L659.6,1102.2 L659.6,1092.8 Z" fill="#000"/>
<path d="M582.4,1107.0 L606.6,1107.0" stroke="#000" stroke-width="2.7"/><path d="M617.0,1107.0 L606.6,1111.7 L606.6,1102.3 Z" fill="#000"/>
<path d="M645.5,1107.0 L659.6,1107.0" stroke="#000" stroke-width="2.7"/><path d="M670.0,1107.0 L659.6,1111.7 L659.6,1102.3 Z" fill="#000"/>
<path d="M580.0,1116.5 L606.6,1116.5" stroke="#000" stroke-width="2.7"/><path d="M617.0,1116.5 L606.6,1121.2 L606.6,1111.8 Z" fill="#000"/>
<path d="M644.0,1116.5 L659.6,1116.5" stroke="#000" stroke-width="2.7"/><path d="M670.0,1116.5 L659.6,1121.2 L659.6,1111.8 Z" fill="#000"/>
<path d="M577.6,1126.0 L606.6,1126.0" stroke="#000" stroke-width="2.7"/><path d="M617.0,1126.0 L606.6,1130.7 L606.6,1121.3 Z" fill="#000"/>
<path d="M642.5,1126.0 L659.6,1126.0" stroke="#000" stroke-width="2.7"/><path d="M670.0,1126.0 L659.6,1130.7 L659.6,1121.3 Z" fill="#000"/>
<path d="M580.0,1134.0 L633.9,1134.0" stroke="#000" stroke-width="3.5100000000000002"/><path d="M650.0,1134.0 L633.9,1139.4 L633.9,1128.6 Z" fill="#000"/>
<path d="M580.0,1141.5 L633.9,1141.5" stroke="#000" stroke-width="3.5100000000000002"/><path d="M650.0,1141.5 L633.9,1146.9 L633.9,1136.1 Z" fill="#000"/>
<path d="M580.0,1149.0 L633.9,1149.0" stroke="#000" stroke-width="3.5100000000000002"/><path d="M650.0,1149.0 L633.9,1154.4 L633.9,1143.6 Z" fill="#000"/>
<path d="M580.0,1156.5 L633.9,1156.5" stroke="#000" stroke-width="3.5100000000000002"/><path d="M650.0,1156.5 L633.9,1161.9 L633.9,1151.1 Z" fill="#000"/>
<path d="M580.0,1164.0 L633.9,1164.0" stroke="#000" stroke-width="3.5100000000000002"/><path d="M650.0,1164.0 L633.9,1169.4 L633.9,1158.6 Z" fill="#000"/>
<path d="M580.0,1171.5 L633.9,1171.5" stroke="#000" stroke-width="3.5100000000000002"/><path d="M650.0,1171.5 L633.9,1176.9 L633.9,1166.1 Z" fill="#000"/>
<path d="M657.0,1205.0 L657.0,1188.7" stroke="#000" stroke-width="2.9700000000000006"/><path d="M657.0,1176.0 L661.7,1188.7 L652.3,1188.7 Z" fill="#000"/>
<path d="M668.0,1205.0 L668.0,1188.7" stroke="#000" stroke-width="2.9700000000000006"/><path d="M668.0,1176.0 L672.7,1188.7 L663.3,1188.7 Z" fill="#000"/>
<path d="M679.0,1205.0 L679.0,1188.7" stroke="#000" stroke-width="2.9700000000000006"/><path d="M679.0,1176.0 L683.7,1188.7 L674.3,1188.7 Z" fill="#000"/>
<path d="M690.0,1205.0 L690.0,1188.7" stroke="#000" stroke-width="2.9700000000000006"/><path d="M690.0,1176.0 L694.7,1188.7 L685.3,1188.7 Z" fill="#000"/>
<path d="M701.0,1205.0 L701.0,1188.7" stroke="#000" stroke-width="2.9700000000000006"/><path d="M701.0,1176.0 L705.7,1188.7 L696.3,1188.7 Z" fill="#000"/>
<path d="M711.0,1205.0 L711.0,1188.7" stroke="#000" stroke-width="2.9700000000000006"/><path d="M711.0,1176.0 L715.7,1188.7 L706.3,1188.7 Z" fill="#000"/>
<path d="M648.0,1185.0 L641.2,1188.4" stroke="#000" stroke-width="2.0250000000000004"/><path d="M634.0,1192.0 L639.4,1184.8 L643.0,1192.0 Z" fill="#000"/>
<circle cx="727" cy="1075.0" r="1.6" fill="#000"/>
<circle cx="727" cy="1086.0" r="1.6" fill="#000"/>
<circle cx="727" cy="1097.0" r="1.6" fill="#000"/>
<circle cx="727" cy="1108.0" r="1.6" fill="#000"/>
<circle cx="727" cy="1119.0" r="1.6" fill="#000"/>
<circle cx="727" cy="1130.0" r="1.6" fill="#000"/>
<circle cx="727" cy="1141.0" r="1.6" fill="#000"/>
<circle cx="727" cy="1152.0" r="1.6" fill="#000"/>
<circle cx="727" cy="1163.0" r="1.6" fill="#000"/>
<circle cx="727" cy="1174.0" r="1.6" fill="#000"/>
<circle cx="727" cy="1185.0" r="1.6" fill="#000"/>
<circle cx="573" cy="1050.0" r="1.4" fill="#000"/>
<circle cx="573" cy="1061.0" r="1.4" fill="#000"/>
<circle cx="573" cy="1072.0" r="1.4" fill="#000"/>
<circle cx="573" cy="1083.0" r="1.4" fill="#000"/>
<circle cx="573" cy="1094.0" r="1.4" fill="#000"/>
<circle cx="573" cy="1105.0" r="1.4" fill="#000"/>
<circle cx="573" cy="1116.0" r="1.4" fill="#000"/>
<circle cx="573" cy="1127.0" r="1.4" fill="#000"/>
<circle cx="573" cy="1138.0" r="1.4" fill="#000"/>
<circle cx="573" cy="1149.0" r="1.4" fill="#000"/>
<circle cx="573" cy="1160.0" r="1.4" fill="#000"/>
<circle cx="573" cy="1171.0" r="1.4" fill="#000"/>
<circle cx="573" cy="1182.0" r="1.4" fill="#000"/>
<path d="M676.0,960.0 L628.0,960.0" stroke="#000" stroke-width="1.8" stroke-opacity="0.7"/><path d="M614.0,960.0 L628.0,954.5 L628.0,965.5 Z" fill="#000"/>
</g>
<g clip-path="url(#clipd)"><g filter="url(#bl1)">
<path d="M904.3,862 H1092.7 V938 H1073.4 V883.5 H904.3 Z" fill="url(#g7)"/>
<rect x="1080" y="870" width="70" height="60" fill="#e5ff1a" filter="url(#bl14)" opacity="0.5"/>
<rect x="1147" y="940" width="23" height="250" fill="#fff000" filter="url(#bl8)" opacity="0.8"/>
<rect x="997" y="1030" width="22" height="140" fill="#fffa00" filter="url(#bl4)" opacity="0.8"/>
<rect x="945" y="1025" width="14" height="225" fill="#57ffa8" filter="url(#bl4)" opacity="0.6"/>
<rect x="1000" y="1162" width="170" height="38" fill="#80ff80" opacity="0.6" filter="url(#bl4)"/>
<rect x="959" y="1032" width="38.5" height="206" fill="url(#g8)"/>
<rect x="997" y="1200" width="174" height="38" fill="url(#g9)"/>
<rect x="1170" y="1033" width="38.5" height="205" fill="url(#g10)"/>
<g clip-path="url(#c7)"><path d="M1164,1033 H1214.5 M1170,1027 V1244 M1208.5,1027 V1244" fill="none" stroke="#0038ff" stroke-width="5" filter="url(#bl2)" opacity="0.45"/></g>
<g clip-path="url(#c6)">
<rect x="1019" y="938" width="128.2" height="224" fill="url(#g11)"/>
<rect x="1019" y="938" width="55.5" height="224" fill="url(#g12)"/>
<rect x="1091.5" y="938" width="55.7" height="224" fill="url(#g13)"/>
</g>
<g clip-path="url(#c8)"><path d="M1013,1162 H1080.5 M1019,1084 V1168" fill="none" stroke="#0024ff" stroke-width="5" filter="url(#bl2)" opacity="0.5"/></g>
<g clip-path="url(#c9)"><path d="M1013,1162 H1080.5" fill="none" stroke="#000fff" stroke-width="6" filter="url(#bl2)" opacity="0.8"/></g>
<g clip-path="url(#c10)"><path d="M1085.5,1162 H1153.2 M1091.5,1116 V1168 M1147.2,1116 V1168" fill="none" stroke="#d10000" stroke-width="6" filter="url(#bl2)" opacity="0.7"/></g>
<rect x="959" y="1032" width="38.5" height="35" fill="#000" opacity="0.3"/>
</g>
<path d="M885,770 V1330 M904.3,770 V862 H1092.7 V938 H1147.2 V1162 H1091.5 V1122 H1109.7 V976.6 H1057.5 V1122 H1074.5 V1162 H1019 V938 H1073.4 V883.5 H904.3 V1330" fill="none" stroke="#000" stroke-opacity="0.68" stroke-width="1.8"/>
<path d="M959,1032 H997.5 V1200 H1170 V1033 H1208.5 V1238.4 H959 Z" fill="none" stroke="#111" stroke-width="1.8"/>
<path d="M996.0,1036.0 L966.4,1036.0" stroke="#000" stroke-width="2.16"/><path d="M959.5,1036.0 L966.4,1032.3 L966.4,1039.7 Z" fill="#000"/>
<path d="M996.0,1043.2 L966.4,1043.2" stroke="#000" stroke-width="2.1300000000000003"/><path d="M959.5,1043.2 L966.4,1039.5 L966.4,1046.9 Z" fill="#000"/>
<path d="M996.0,1050.4 L966.4,1050.4" stroke="#000" stroke-width="2.1"/><path d="M959.5,1050.4 L966.4,1046.7 L966.4,1054.1 Z" fill="#000"/>
<path d="M996.0,1057.6 L966.4,1057.6" stroke="#000" stroke-width="2.0700000000000003"/><path d="M959.5,1057.6 L966.4,1053.9 L966.4,1061.3 Z" fill="#000"/>
<path d="M996.0,1064.8 L966.4,1064.8" stroke="#000" stroke-width="2.0400000000000005"/><path d="M959.5,1064.8 L966.4,1061.1 L966.4,1068.5 Z" fill="#000"/>
<path d="M996.0,1072.0 L966.4,1072.0" stroke="#000" stroke-width="2.0100000000000002"/><path d="M959.5,1072.0 L966.4,1068.3 L966.4,1075.7 Z" fill="#000"/>
<path d="M996.0,1079.2 L966.4,1079.2" stroke="#000" stroke-width="1.9800000000000002"/><path d="M959.5,1079.2 L966.4,1075.5 L966.4,1082.9 Z" fill="#000"/>
<path d="M996.0,1086.4 L966.4,1086.4" stroke="#000" stroke-width="1.9500000000000004"/><path d="M959.5,1086.4 L966.4,1082.7 L966.4,1090.1 Z" fill="#000"/>
<path d="M996.0,1093.6 L966.4,1093.6" stroke="#000" stroke-width="1.9200000000000002"/><path d="M959.5,1093.6 L966.4,1089.9 L966.4,1097.3 Z" fill="#000"/>
<path d="M996.0,1100.8 L966.4,1100.8" stroke="#000" stroke-width="1.8900000000000003"/><path d="M959.5,1100.8 L966.4,1097.1 L966.4,1104.5 Z" fill="#000"/>
<path d="M996.0,1108.0 L966.4,1108.0" stroke="#000" stroke-width="1.86"/><path d="M959.5,1108.0 L966.4,1104.3 L966.4,1111.7 Z" fill="#000"/>
<path d="M996.0,1115.2 L966.4,1115.2" stroke="#000" stroke-width="1.8300000000000003"/><path d="M959.5,1115.2 L966.4,1111.5 L966.4,1118.9 Z" fill="#000"/>
<path d="M996.0,1122.4 L966.4,1122.4" stroke="#000" stroke-width="1.8000000000000003"/><path d="M959.5,1122.4 L966.4,1118.7 L966.4,1126.1 Z" fill="#000"/>
<path d="M996.0,1129.6 L966.4,1129.6" stroke="#000" stroke-width="1.7700000000000005"/><path d="M959.5,1129.6 L966.4,1125.9 L966.4,1133.3 Z" fill="#000"/>
<path d="M996.0,1136.8 L966.4,1136.8" stroke="#000" stroke-width="1.7400000000000002"/><path d="M959.5,1136.8 L966.4,1133.1 L966.4,1140.5 Z" fill="#000"/>
<path d="M996.0,1144.0 L966.4,1144.0" stroke="#000" stroke-width="1.7100000000000004"/><path d="M959.5,1144.0 L966.4,1140.3 L966.4,1147.7 Z" fill="#000"/>
<path d="M996.0,1151.2 L966.4,1151.2" stroke="#000" stroke-width="1.6800000000000002"/><path d="M959.5,1151.2 L966.4,1147.5 L966.4,1154.9 Z" fill="#000"/>
<path d="M996.0,1158.4 L966.4,1158.4" stroke="#000" stroke-width="1.6500000000000001"/><path d="M959.5,1158.4 L966.4,1154.7 L966.4,1162.1 Z" fill="#000"/>
<path d="M996.0,1165.6 L966.4,1165.6" stroke="#000" stroke-width="1.6200000000000003"/><path d="M959.5,1165.6 L966.4,1161.9 L966.4,1169.3 Z" fill="#000"/>
<path d="M996.0,1172.8 L966.4,1172.8" stroke="#000" stroke-width="1.59"/><path d="M959.5,1172.8 L966.4,1169.1 L966.4,1176.5 Z" fill="#000"/>
<path d="M996.0,1180.0 L966.4,1180.0" stroke="#000" stroke-width="1.5600000000000003"/><path d="M959.5,1180.0 L966.4,1176.3 L966.4,1183.7 Z" fill="#000"/>
<path d="M996.0,1187.2 L966.4,1187.2" stroke="#000" stroke-width="1.53"/><path d="M959.5,1187.2 L966.4,1183.5 L966.4,1190.9 Z" fill="#000"/>
<path d="M996.0,1194.4 L966.4,1194.4" stroke="#000" stroke-width="1.5000000000000002"/><path d="M959.5,1194.4 L966.4,1190.7 L966.4,1198.1 Z" fill="#000"/>
<path d="M996.0,1201.6 L966.4,1201.6" stroke="#000" stroke-width="1.4700000000000002"/><path d="M959.5,1201.6 L966.4,1197.9 L966.4,1205.3 Z" fill="#000"/>
<path d="M996.0,1208.8 L966.4,1208.8" stroke="#000" stroke-width="1.4400000000000004"/><path d="M959.5,1208.8 L966.4,1205.1 L966.4,1212.5 Z" fill="#000"/>
<path d="M996.0,1216.0 L966.4,1216.0" stroke="#000" stroke-width="1.4100000000000001"/><path d="M959.5,1216.0 L966.4,1212.3 L966.4,1219.7 Z" fill="#000"/>
<path d="M996.0,1223.2 L966.4,1223.2" stroke="#000" stroke-width="1.3800000000000003"/><path d="M959.5,1223.2 L966.4,1219.5 L966.4,1226.9 Z" fill="#000"/>
<path d="M996.0,1230.4 L966.4,1230.4" stroke="#000" stroke-width="1.35"/><path d="M959.5,1230.4 L966.4,1226.7 L966.4,1234.1 Z" fill="#000"/>
<path d="M999.0,1036.0 L1008.0,1036.0" stroke="#000" stroke-width="2.43"/><path d="M1016.0,1036.0 L1008.0,1040.0 L1008.0,1032.0 Z" fill="#000"/>
<path d="M999.0,1043.2 L1008.0,1043.2" stroke="#000" stroke-width="2.43"/><path d="M1016.0,1043.2 L1008.0,1047.2 L1008.0,1039.2 Z" fill="#000"/>
<path d="M999.0,1050.4 L1008.0,1050.4" stroke="#000" stroke-width="2.43"/><path d="M1016.0,1050.4 L1008.0,1054.5 L1008.0,1046.4 Z" fill="#000"/>
<path d="M999.0,1057.6 L1008.0,1057.6" stroke="#000" stroke-width="2.43"/><path d="M1016.0,1057.6 L1008.0,1061.6 L1008.0,1053.5 Z" fill="#000"/>
<path d="M999.0,1064.8 L1008.0,1064.8" stroke="#000" stroke-width="2.43"/><path d="M1016.0,1064.8 L1008.0,1068.8 L1008.0,1060.8 Z" fill="#000"/>
<path d="M999.0,1072.0 L1008.0,1072.0" stroke="#000" stroke-width="2.43"/><path d="M1016.0,1072.0 L1008.0,1076.0 L1008.0,1068.0 Z" fill="#000"/>
<path d="M999.0,1079.2 L1008.0,1079.2" stroke="#000" stroke-width="2.43"/><path d="M1016.0,1079.2 L1008.0,1083.2 L1008.0,1075.2 Z" fill="#000"/>
<path d="M999.0,1086.4 L1008.0,1086.4" stroke="#000" stroke-width="2.43"/><path d="M1016.0,1086.4 L1008.0,1090.5 L1008.0,1082.4 Z" fill="#000"/>
<path d="M999.0,1093.6 L1008.0,1093.6" stroke="#000" stroke-width="2.43"/><path d="M1016.0,1093.6 L1008.0,1097.6 L1008.0,1089.5 Z" fill="#000"/>
<path d="M999.0,1100.8 L1008.0,1100.8" stroke="#000" stroke-width="2.43"/><path d="M1016.0,1100.8 L1008.0,1104.8 L1008.0,1096.8 Z" fill="#000"/>
<path d="M999.0,1108.0 L1008.0,1108.0" stroke="#000" stroke-width="2.43"/><path d="M1016.0,1108.0 L1008.0,1112.0 L1008.0,1104.0 Z" fill="#000"/>
<path d="M999.0,1115.2 L1008.0,1115.2" stroke="#000" stroke-width="2.43"/><path d="M1016.0,1115.2 L1008.0,1119.2 L1008.0,1111.2 Z" fill="#000"/>
<path d="M999.0,1122.4 L1008.0,1122.4" stroke="#000" stroke-width="2.43"/><path d="M1016.0,1122.4 L1008.0,1126.5 L1008.0,1118.4 Z" fill="#000"/>
<path d="M999.0,1129.6 L1008.0,1129.6" stroke="#000" stroke-width="2.43"/><path d="M1016.0,1129.6 L1008.0,1133.6 L1008.0,1125.5 Z" fill="#000"/>
<path d="M999.0,1136.8 L1008.0,1136.8" stroke="#000" stroke-width="2.43"/><path d="M1016.0,1136.8 L1008.0,1140.8 L1008.0,1132.8 Z" fill="#000"/>
<path d="M999.0,1144.0 L1008.0,1144.0" stroke="#000" stroke-width="2.43"/><path d="M1016.0,1144.0 L1008.0,1148.0 L1008.0,1140.0 Z" fill="#000"/>
<path d="M999.0,1151.2 L1008.0,1151.2" stroke="#000" stroke-width="2.43"/><path d="M1016.0,1151.2 L1008.0,1155.2 L1008.0,1147.2 Z" fill="#000"/>
<path d="M999.0,1158.4 L1008.0,1158.4" stroke="#000" stroke-width="2.43"/><path d="M1016.0,1158.4 L1008.0,1162.5 L1008.0,1154.4 Z" fill="#000"/>
<path d="M999.0,1165.6 L1008.0,1165.6" stroke="#000" stroke-width="2.43"/><path d="M1016.0,1165.6 L1008.0,1169.6 L1008.0,1161.5 Z" fill="#000"/>
<path d="M999.0,1172.8 L1008.0,1172.8" stroke="#000" stroke-width="2.43"/><path d="M1016.0,1172.8 L1008.0,1176.8 L1008.0,1168.8 Z" fill="#000"/>
<path d="M999.0,1180.0 L1008.0,1180.0" stroke="#000" stroke-width="2.43"/><path d="M1016.0,1180.0 L1008.0,1184.0 L1008.0,1176.0 Z" fill="#000"/>
<path d="M999.0,1187.2 L1008.0,1187.2" stroke="#000" stroke-width="2.43"/><path d="M1016.0,1187.2 L1008.0,1191.2 L1008.0,1183.2 Z" fill="#000"/>
<path d="M999.0,1194.4 L1008.0,1194.4" stroke="#000" stroke-width="2.43"/><path d="M1016.0,1194.4 L1008.0,1198.5 L1008.0,1190.4 Z" fill="#000"/>
<path d="M1144.0,1036.0 L1157.8,1036.0" stroke="#000" stroke-width="2.43"/><path d="M1167.0,1036.0 L1157.8,1040.4 L1157.8,1031.6 Z" fill="#000"/>
<path d="M1144.0,1043.2 L1157.8,1043.2" stroke="#000" stroke-width="2.43"/><path d="M1167.0,1043.2 L1157.8,1047.6 L1157.8,1038.8 Z" fill="#000"/>
<path d="M1144.0,1050.4 L1157.8,1050.4" stroke="#000" stroke-width="2.43"/><path d="M1167.0,1050.4 L1157.8,1054.8 L1157.8,1046.0 Z" fill="#000"/>
<path d="M1144.0,1057.6 L1157.8,1057.6" stroke="#000" stroke-width="2.43"/><path d="M1167.0,1057.6 L1157.8,1062.0 L1157.8,1053.2 Z" fill="#000"/>
<path d="M1144.0,1064.8 L1157.8,1064.8" stroke="#000" stroke-width="2.43"/><path d="M1167.0,1064.8 L1157.8,1069.2 L1157.8,1060.4 Z" fill="#000"/>
<path d="M1144.0,1072.0 L1157.8,1072.0" stroke="#000" stroke-width="2.43"/><path d="M1167.0,1072.0 L1157.8,1076.4 L1157.8,1067.6 Z" fill="#000"/>
<path d="M1144.0,1079.2 L1157.8,1079.2" stroke="#000" stroke-width="2.43"/><path d="M1167.0,1079.2 L1157.8,1083.6 L1157.8,1074.8 Z" fill="#000"/>
<path d="M1144.0,1086.4 L1157.8,1086.4" stroke="#000" stroke-width="2.43"/><path d="M1167.0,1086.4 L1157.8,1090.8 L1157.8,1082.0 Z" fill="#000"/>
<path d="M1144.0,1093.6 L1157.8,1093.6" stroke="#000" stroke-width="2.43"/><path d="M1167.0,1093.6 L1157.8,1098.0 L1157.8,1089.2 Z" fill="#000"/>
<path d="M1144.0,1100.8 L1157.8,1100.8" stroke="#000" stroke-width="2.43"/><path d="M1167.0,1100.8 L1157.8,1105.2 L1157.8,1096.4 Z" fill="#000"/>
<path d="M1144.0,1108.0 L1157.8,1108.0" stroke="#000" stroke-width="2.43"/><path d="M1167.0,1108.0 L1157.8,1112.4 L1157.8,1103.6 Z" fill="#000"/>
<path d="M1144.0,1115.2 L1157.8,1115.2" stroke="#000" stroke-width="2.43"/><path d="M1167.0,1115.2 L1157.8,1119.6 L1157.8,1110.8 Z" fill="#000"/>
<path d="M1144.0,1122.4 L1157.8,1122.4" stroke="#000" stroke-width="2.43"/><path d="M1167.0,1122.4 L1157.8,1126.8 L1157.8,1118.0 Z" fill="#000"/>
<path d="M1144.0,1129.6 L1157.8,1129.6" stroke="#000" stroke-width="2.43"/><path d="M1167.0,1129.6 L1157.8,1134.0 L1157.8,1125.2 Z" fill="#000"/>
<path d="M1144.0,1136.8 L1157.8,1136.8" stroke="#000" stroke-width="2.43"/><path d="M1167.0,1136.8 L1157.8,1141.2 L1157.8,1132.4 Z" fill="#000"/>
<path d="M1144.0,1144.0 L1157.8,1144.0" stroke="#000" stroke-width="2.43"/><path d="M1167.0,1144.0 L1157.8,1148.4 L1157.8,1139.6 Z" fill="#000"/>
<path d="M1144.0,1151.2 L1157.8,1151.2" stroke="#000" stroke-width="2.43"/><path d="M1167.0,1151.2 L1157.8,1155.6 L1157.8,1146.8 Z" fill="#000"/>
<path d="M1144.0,1158.4 L1157.8,1158.4" stroke="#000" stroke-width="2.43"/><path d="M1167.0,1158.4 L1157.8,1162.8 L1157.8,1154.0 Z" fill="#000"/>
<path d="M1144.0,1165.6 L1157.8,1165.6" stroke="#000" stroke-width="2.43"/><path d="M1167.0,1165.6 L1157.8,1170.0 L1157.8,1161.2 Z" fill="#000"/>
<path d="M1144.0,1172.8 L1157.8,1172.8" stroke="#000" stroke-width="2.43"/><path d="M1167.0,1172.8 L1157.8,1177.2 L1157.8,1168.4 Z" fill="#000"/>
<path d="M1144.0,1180.0 L1157.8,1180.0" stroke="#000" stroke-width="2.43"/><path d="M1167.0,1180.0 L1157.8,1184.4 L1157.8,1175.6 Z" fill="#000"/>
<path d="M1144.0,1187.2 L1157.8,1187.2" stroke="#000" stroke-width="2.43"/><path d="M1167.0,1187.2 L1157.8,1191.6 L1157.8,1182.8 Z" fill="#000"/>
<path d="M1232.0,1040.0 L1220.2,1040.0" stroke="#000" stroke-width="2.43"/><path d="M1211.0,1040.0 L1220.2,1036.0 L1220.2,1044.0 Z" fill="#000"/>
<path d="M1232.0,1047.2 L1220.2,1047.2" stroke="#000" stroke-width="2.43"/><path d="M1211.0,1047.2 L1220.2,1043.2 L1220.2,1051.2 Z" fill="#000"/>
<path d="M1232.0,1054.4 L1220.2,1054.4" stroke="#000" stroke-width="2.43"/><path d="M1211.0,1054.4 L1220.2,1050.4 L1220.2,1058.5 Z" fill="#000"/>
<path d="M1232.0,1061.6 L1220.2,1061.6" stroke="#000" stroke-width="2.43"/><path d="M1211.0,1061.6 L1220.2,1057.5 L1220.2,1065.6 Z" fill="#000"/>
<path d="M1232.0,1068.8 L1220.2,1068.8" stroke="#000" stroke-width="2.43"/><path d="M1211.0,1068.8 L1220.2,1064.8 L1220.2,1072.8 Z" fill="#000"/>
<path d="M1232.0,1076.0 L1220.2,1076.0" stroke="#000" stroke-width="2.43"/><path d="M1211.0,1076.0 L1220.2,1072.0 L1220.2,1080.0 Z" fill="#000"/>
<path d="M1232.0,1083.2 L1220.2,1083.2" stroke="#000" stroke-width="2.43"/><path d="M1211.0,1083.2 L1220.2,1079.2 L1220.2,1087.2 Z" fill="#000"/>
<path d="M1232.0,1090.4 L1220.2,1090.4" stroke="#000" stroke-width="2.43"/><path d="M1211.0,1090.4 L1220.2,1086.4 L1220.2,1094.5 Z" fill="#000"/>
<path d="M1232.0,1097.6 L1220.2,1097.6" stroke="#000" stroke-width="2.43"/><path d="M1211.0,1097.6 L1220.2,1093.5 L1220.2,1101.6 Z" fill="#000"/>
<path d="M1232.0,1104.8 L1220.2,1104.8" stroke="#000" stroke-width="2.43"/><path d="M1211.0,1104.8 L1220.2,1100.8 L1220.2,1108.8 Z" fill="#000"/>
<path d="M1232.0,1112.0 L1220.2,1112.0" stroke="#000" stroke-width="2.43"/><path d="M1211.0,1112.0 L1220.2,1108.0 L1220.2,1116.0 Z" fill="#000"/>
<path d="M1232.0,1119.2 L1220.2,1119.2" stroke="#000" stroke-width="2.43"/><path d="M1211.0,1119.2 L1220.2,1115.2 L1220.2,1123.2 Z" fill="#000"/>
<path d="M1232.0,1126.4 L1220.2,1126.4" stroke="#000" stroke-width="2.43"/><path d="M1211.0,1126.4 L1220.2,1122.4 L1220.2,1130.5 Z" fill="#000"/>
<path d="M1232.0,1133.6 L1220.2,1133.6" stroke="#000" stroke-width="2.43"/><path d="M1211.0,1133.6 L1220.2,1129.5 L1220.2,1137.6 Z" fill="#000"/>
<path d="M1232.0,1140.8 L1220.2,1140.8" stroke="#000" stroke-width="2.43"/><path d="M1211.0,1140.8 L1220.2,1136.8 L1220.2,1144.8 Z" fill="#000"/>
<path d="M1232.0,1148.0 L1220.2,1148.0" stroke="#000" stroke-width="2.43"/><path d="M1211.0,1148.0 L1220.2,1144.0 L1220.2,1152.0 Z" fill="#000"/>
<path d="M1232.0,1155.2 L1220.2,1155.2" stroke="#000" stroke-width="2.43"/><path d="M1211.0,1155.2 L1220.2,1151.2 L1220.2,1159.2 Z" fill="#000"/>
<path d="M1232.0,1162.4 L1220.2,1162.4" stroke="#000" stroke-width="2.43"/><path d="M1211.0,1162.4 L1220.2,1158.4 L1220.2,1166.5 Z" fill="#000"/>
<path d="M1232.0,1169.6 L1220.2,1169.6" stroke="#000" stroke-width="2.43"/><path d="M1211.0,1169.6 L1220.2,1165.5 L1220.2,1173.6 Z" fill="#000"/>
<path d="M1232.0,1176.8 L1220.2,1176.8" stroke="#000" stroke-width="2.43"/><path d="M1211.0,1176.8 L1220.2,1172.8 L1220.2,1180.8 Z" fill="#000"/>
<path d="M1232.0,1184.0 L1220.2,1184.0" stroke="#000" stroke-width="2.43"/><path d="M1211.0,1184.0 L1220.2,1180.0 L1220.2,1188.0 Z" fill="#000"/>
<path d="M1232.0,1191.2 L1220.2,1191.2" stroke="#000" stroke-width="2.43"/><path d="M1211.0,1191.2 L1220.2,1187.2 L1220.2,1195.2 Z" fill="#000"/>
<path d="M1232.0,1198.4 L1220.2,1198.4" stroke="#000" stroke-width="2.43"/><path d="M1211.0,1198.4 L1220.2,1194.4 L1220.2,1202.5 Z" fill="#000"/>
<path d="M1232.0,1205.6 L1220.2,1205.6" stroke="#000" stroke-width="2.43"/><path d="M1211.0,1205.6 L1220.2,1201.5 L1220.2,1209.6 Z" fill="#000"/>
<path d="M1232.0,1212.8 L1220.2,1212.8" stroke="#000" stroke-width="2.43"/><path d="M1211.0,1212.8 L1220.2,1208.8 L1220.2,1216.8 Z" fill="#000"/>
<path d="M1232.0,1220.0 L1220.2,1220.0" stroke="#000" stroke-width="2.43"/><path d="M1211.0,1220.0 L1220.2,1216.0 L1220.2,1224.0 Z" fill="#000"/>
<path d="M1232.0,1227.2 L1220.2,1227.2" stroke="#000" stroke-width="2.43"/><path d="M1211.0,1227.2 L1220.2,1223.2 L1220.2,1231.2 Z" fill="#000"/>
<path d="M1232.0,1234.4 L1220.2,1234.4" stroke="#000" stroke-width="2.43"/><path d="M1211.0,1234.4 L1220.2,1230.4 L1220.2,1238.5 Z" fill="#000"/>
<path d="M1090.0,1125.0 L1083.9,1125.0" stroke="#000" stroke-width="2.43"/><path d="M1077.0,1125.0 L1083.9,1121.3 L1083.9,1128.7 Z" fill="#000"/>
<path d="M1090.0,1132.0 L1083.9,1132.0" stroke="#000" stroke-width="2.43"/><path d="M1077.0,1132.0 L1083.9,1128.3 L1083.9,1135.7 Z" fill="#000"/>
<path d="M1090.0,1139.0 L1083.9,1139.0" stroke="#000" stroke-width="2.43"/><path d="M1077.0,1139.0 L1083.9,1135.3 L1083.9,1142.7 Z" fill="#000"/>
<path d="M1090.0,1146.0 L1083.9,1146.0" stroke="#000" stroke-width="2.43"/><path d="M1077.0,1146.0 L1083.9,1142.3 L1083.9,1149.7 Z" fill="#000"/>
<path d="M1090.0,1153.0 L1083.9,1153.0" stroke="#000" stroke-width="2.43"/><path d="M1077.0,1153.0 L1083.9,1149.3 L1083.9,1156.7 Z" fill="#000"/>
<path d="M1090.0,1160.0 L1083.9,1160.0" stroke="#000" stroke-width="2.43"/><path d="M1077.0,1160.0 L1083.9,1156.3 L1083.9,1163.7 Z" fill="#000"/>
<path d="M1176.0,1005.0 L1176.0,1020.6" stroke="#000" stroke-width="2.16"/><path d="M1176.0,1031.0 L1172.0,1020.6 L1180.0,1020.6 Z" fill="#000"/>
<path d="M1183.0,1005.0 L1183.0,1020.6" stroke="#000" stroke-width="2.16"/><path d="M1183.0,1031.0 L1179.0,1020.6 L1187.0,1020.6 Z" fill="#000"/>
<path d="M1190.0,1005.0 L1190.0,1020.6" stroke="#000" stroke-width="2.16"/><path d="M1190.0,1031.0 L1186.0,1020.6 L1194.0,1020.6 Z" fill="#000"/>
<path d="M1197.0,1005.0 L1197.0,1020.6" stroke="#000" stroke-width="2.16"/><path d="M1197.0,1031.0 L1193.0,1020.6 L1201.0,1020.6 Z" fill="#000"/>
<path d="M1204.0,1005.0 L1204.0,1020.6" stroke="#000" stroke-width="2.16"/><path d="M1204.0,1031.0 L1200.0,1020.6 L1208.0,1020.6 Z" fill="#000"/>
<path d="M1222.0,1003.0 L1212.0,1021.0" stroke="#000" stroke-width="2.16"/><path d="M1207.0,1030.0 L1208.5,1019.0 L1215.6,1022.9 Z" fill="#000"/>
<path d="M1140.0,1025.0 L1158.4,1031.4" stroke="#000" stroke-width="1.89"/><path d="M1166.0,1034.0 L1157.3,1034.6 L1159.5,1028.2 Z" fill="#000"/>
<path d="M1022.0,1180.0 L1022.0,1172.9" stroke="#000" stroke-width="1.7550000000000001"/><path d="M1022.0,1166.0 L1025.0,1172.9 L1019.0,1172.9 Z" fill="#000"/>
<path d="M1031.0,1180.0 L1031.0,1172.9" stroke="#000" stroke-width="1.7550000000000001"/><path d="M1031.0,1166.0 L1034.0,1172.9 L1028.0,1172.9 Z" fill="#000"/>
<path d="M1040.0,1180.0 L1040.0,1172.9" stroke="#000" stroke-width="1.7550000000000001"/><path d="M1040.0,1166.0 L1043.0,1172.9 L1037.0,1172.9 Z" fill="#000"/>
<path d="M1049.0,1180.0 L1049.0,1172.9" stroke="#000" stroke-width="1.7550000000000001"/><path d="M1049.0,1166.0 L1052.0,1172.9 L1046.0,1172.9 Z" fill="#000"/>
<path d="M1058.0,1180.0 L1058.0,1172.9" stroke="#000" stroke-width="1.7550000000000001"/><path d="M1058.0,1166.0 L1061.0,1172.9 L1055.0,1172.9 Z" fill="#000"/>
<path d="M1067.0,1180.0 L1067.0,1172.9" stroke="#000" stroke-width="1.7550000000000001"/><path d="M1067.0,1166.0 L1070.0,1172.9 L1064.0,1172.9 Z" fill="#000"/>
<path d="M1076.0,1180.0 L1076.0,1172.9" stroke="#000" stroke-width="1.7550000000000001"/><path d="M1076.0,1166.0 L1079.0,1172.9 L1073.0,1172.9 Z" fill="#000"/>
<path d="M1053.0,959.6 L1101.4,959.6" stroke="#000" stroke-width="1.8" stroke-opacity="0.65"/><path d="M1115.4,959.6 L1101.4,965.1 L1101.4,954.1 Z" fill="#000"/>
<path d="M1115.4,1214.5 L1067.0,1214.5" stroke="#000" stroke-width="1.8" stroke-opacity="0.8"/><path d="M1053.0,1214.5 L1067.0,1209.0 L1067.0,1220.0 Z" fill="#000"/>
</g>
<g clip-path="url(#clipe)"><g filter="url(#bl1)">
<path d="M1305.1,862 H1497 V938 H1476.5 V882.3 H1305.1 Z" fill="url(#g14)"/>
<rect x="1405" y="1000" width="17" height="160" fill="#d1ff2e" filter="url(#bl8)" opacity="0.5"/>
<rect x="1348" y="1028" width="13" height="215" fill="#4dffb2" filter="url(#bl4)" opacity="0.5"/>
<rect x="1360.7" y="1032" width="38.6" height="205" fill="url(#g15)"/>
<rect x="1399" y="1198.6" width="174.5" height="38.6" fill="url(#g16)"/>
<rect x="1573" y="1032" width="38.5" height="205" fill="url(#g17)"/>
<g clip-path="url(#c11)">
<rect x="1422" y="938" width="128.7" height="222" fill="url(#g18)"/>
<rect x="1422" y="938" width="68" height="222" fill="url(#g19)"/>
<rect x="1495.8" y="940" width="55" height="220" fill="url(#g20)"/>
<rect x="1495.8" y="1120" width="55" height="40" fill="#0080ff"/>
</g>
<g clip-path="url(#c12)"><path d="M1489.8,1120 H1556.8 M1489.8,1160 H1556.8 M1495.8,1114 V1166 M1550.8,1114 V1166" fill="none" stroke="#000fff" stroke-width="6" filter="url(#bl2)" opacity="0.8"/></g>
<rect x="1463" y="1120" width="26" height="40" fill="#000" opacity="0.45"/>
</g>
<path d="M1285.8,770 V1330 M1305.1,770 V862 H1497 V938 H1550.7 V1160 H1495.8 V1120 H1512.8 V976.5 H1460.6 V1120 H1490 V1160 H1422 V938 H1476.5 V882.3 H1305.1 V1330" fill="none" stroke="#000" stroke-opacity="0.55" stroke-width="1.9"/>
<path d="M1360.7,1032 H1399.3 V1198.6 H1573 V1032 H1611.5 V1237.2 H1360.7 Z" fill="none" stroke="#111" stroke-width="1.8"/>
<path d="M1372.0,1040.0 L1366.8,1040.0" stroke="#000" stroke-width="1.89"/><path d="M1361.0,1040.0 L1366.8,1037.0 L1366.8,1043.0 Z" fill="#000"/>
<path d="M1372.0,1048.0 L1366.8,1048.0" stroke="#000" stroke-width="1.89"/><path d="M1361.0,1048.0 L1366.8,1045.0 L1366.8,1051.0 Z" fill="#000"/>
<path d="M1372.0,1056.0 L1366.8,1056.0" stroke="#000" stroke-width="1.89"/><path d="M1361.0,1056.0 L1366.8,1053.0 L1366.8,1059.0 Z" fill="#000"/>
<path d="M1372.0,1064.0 L1366.8,1064.0" stroke="#000" stroke-width="1.89"/><path d="M1361.0,1064.0 L1366.8,1061.0 L1366.8,1067.0 Z" fill="#000"/>
<path d="M1372.0,1072.0 L1366.8,1072.0" stroke="#000" stroke-width="1.89"/><path d="M1361.0,1072.0 L1366.8,1069.0 L1366.8,1075.0 Z" fill="#000"/>
<path d="M1372.0,1080.0 L1366.8,1080.0" stroke="#000" stroke-width="1.89"/><path d="M1361.0,1080.0 L1366.8,1077.0 L1366.8,1083.0 Z" fill="#000"/>
<path d="M1372.0,1088.0 L1366.8,1088.0" stroke="#000" stroke-width="1.89"/><path d="M1361.0,1088.0 L1366.8,1085.0 L1366.8,1091.0 Z" fill="#000"/>
<path d="M1372.0,1096.0 L1366.8,1096.0" stroke="#000" stroke-width="1.89"/><path d="M1361.0,1096.0 L1366.8,1093.0 L1366.8,1099.0 Z" fill="#000"/>
<path d="M1372.0,1104.0 L1366.8,1104.0" stroke="#000" stroke-width="1.89"/><path d="M1361.0,1104.0 L1366.8,1101.0 L1366.8,1107.0 Z" fill="#000"/>
<path d="M1372.0,1112.0 L1366.8,1112.0" stroke="#000" stroke-width="1.89"/><path d="M1361.0,1112.0 L1366.8,1109.0 L1366.8,1115.0 Z" fill="#000"/>
<path d="M1372.0,1120.0 L1366.8,1120.0" stroke="#000" stroke-width="1.89"/><path d="M1361.0,1120.0 L1366.8,1117.0 L1366.8,1123.0 Z" fill="#000"/>
<path d="M1372.0,1128.0 L1366.8,1128.0" stroke="#000" stroke-width="1.89"/><path d="M1361.0,1128.0 L1366.8,1125.0 L1366.8,1131.0 Z" fill="#000"/>
<path d="M1372.0,1136.0 L1366.8,1136.0" stroke="#000" stroke-width="1.89"/><path d="M1361.0,1136.0 L1366.8,1133.0 L1366.8,1139.0 Z" fill="#000"/>
<path d="M1372.0,1144.0 L1366.8,1144.0" stroke="#000" stroke-width="1.89"/><path d="M1361.0,1144.0 L1366.8,1141.0 L1366.8,1147.0 Z" fill="#000"/>
<path d="M1372.0,1152.0 L1366.8,1152.0" stroke="#000" stroke-width="1.89"/><path d="M1361.0,1152.0 L1366.8,1149.0 L1366.8,1155.0 Z" fill="#000"/>
<path d="M1372.0,1160.0 L1366.8,1160.0" stroke="#000" stroke-width="1.89"/><path d="M1361.0,1160.0 L1366.8,1157.0 L1366.8,1163.0 Z" fill="#000"/>
<path d="M1372.0,1168.0 L1366.8,1168.0" stroke="#000" stroke-width="1.89"/><path d="M1361.0,1168.0 L1366.8,1165.0 L1366.8,1171.0 Z" fill="#000"/>
<path d="M1372.0,1176.0 L1366.8,1176.0" stroke="#000" stroke-width="1.89"/><path d="M1361.0,1176.0 L1366.8,1173.0 L1366.8,1179.0 Z" fill="#000"/>
<path d="M1372.0,1184.0 L1366.8,1184.0" stroke="#000" stroke-width="1.89"/><path d="M1361.0,1184.0 L1366.8,1181.0 L1366.8,1187.0 Z" fill="#000"/>
<path d="M1372.0,1192.0 L1366.8,1192.0" stroke="#000" stroke-width="1.89"/><path d="M1361.0,1192.0 L1366.8,1189.0 L1366.8,1195.0 Z" fill="#000"/>
<path d="M1372.0,1200.0 L1366.8,1200.0" stroke="#000" stroke-width="1.89"/><path d="M1361.0,1200.0 L1366.8,1197.0 L1366.8,1203.0 Z" fill="#000"/>
<path d="M1372.0,1208.0 L1366.8,1208.0" stroke="#000" stroke-width="1.89"/><path d="M1361.0,1208.0 L1366.8,1205.0 L1366.8,1211.0 Z" fill="#000"/>
<path d="M1372.0,1216.0 L1366.8,1216.0" stroke="#000" stroke-width="1.89"/><path d="M1361.0,1216.0 L1366.8,1213.0 L1366.8,1219.0 Z" fill="#000"/>
<path d="M1372.0,1224.0 L1366.8,1224.0" stroke="#000" stroke-width="1.89"/><path d="M1361.0,1224.0 L1366.8,1221.0 L1366.8,1227.0 Z" fill="#000"/>
<path d="M1372.0,1232.0 L1366.8,1232.0" stroke="#000" stroke-width="1.89"/><path d="M1361.0,1232.0 L1366.8,1229.0 L1366.8,1235.0 Z" fill="#000"/>
<path d="M1366.0,1036.0 L1366.0,1040.2" stroke="#000" stroke-width="1.62"/><path d="M1366.0,1046.0 L1363.3,1040.2 L1368.7,1040.2 Z" fill="#000"/>
<path d="M1374.0,1036.0 L1374.0,1040.2" stroke="#000" stroke-width="1.62"/><path d="M1374.0,1046.0 L1371.3,1040.2 L1376.7,1040.2 Z" fill="#000"/>
<path d="M1382.0,1036.0 L1382.0,1040.2" stroke="#000" stroke-width="1.62"/><path d="M1382.0,1046.0 L1379.3,1040.2 L1384.7,1040.2 Z" fill="#000"/>
<path d="M1390.0,1036.0 L1390.0,1040.2" stroke="#000" stroke-width="1.62"/><path d="M1390.0,1046.0 L1387.3,1040.2 L1392.7,1040.2 Z" fill="#000"/>
<path d="M1397.0,1036.0 L1397.0,1040.2" stroke="#000" stroke-width="1.62"/><path d="M1397.0,1046.0 L1394.3,1040.2 L1399.7,1040.2 Z" fill="#000"/>
<path d="M1452.0,1005.0 L1453.0,1005.0" stroke="#000" stroke-width="2.43"/><path d="M1461.0,1005.0 L1453.0,1009.0 L1453.0,1001.0 Z" fill="#000"/>
<path d="M1451.1,1012.5 L1453.0,1012.5" stroke="#000" stroke-width="2.43"/><path d="M1461.0,1012.5 L1453.0,1016.5 L1453.0,1008.5 Z" fill="#000"/>
<path d="M1499.6,1012.5 L1503.0,1012.5" stroke="#000" stroke-width="2.43"/><path d="M1511.0,1012.5 L1503.0,1016.2 L1503.0,1008.8 Z" fill="#000"/>
<path d="M1450.1,1020.0 L1453.0,1020.0" stroke="#000" stroke-width="2.43"/><path d="M1461.0,1020.0 L1453.0,1024.0 L1453.0,1016.0 Z" fill="#000"/>
<path d="M1499.2,1020.0 L1503.0,1020.0" stroke="#000" stroke-width="2.43"/><path d="M1511.0,1020.0 L1503.0,1023.7 L1503.0,1016.3 Z" fill="#000"/>
<path d="M1449.2,1027.5 L1453.0,1027.5" stroke="#000" stroke-width="2.43"/><path d="M1461.0,1027.5 L1453.0,1031.5 L1453.0,1023.5 Z" fill="#000"/>
<path d="M1498.8,1027.5 L1503.0,1027.5" stroke="#000" stroke-width="2.43"/><path d="M1511.0,1027.5 L1503.0,1031.2 L1503.0,1023.8 Z" fill="#000"/>
<path d="M1448.3,1035.0 L1453.0,1035.0" stroke="#000" stroke-width="2.43"/><path d="M1461.0,1035.0 L1453.0,1039.0 L1453.0,1031.0 Z" fill="#000"/>
<path d="M1498.4,1035.0 L1503.0,1035.0" stroke="#000" stroke-width="2.43"/><path d="M1511.0,1035.0 L1503.0,1038.7 L1503.0,1031.3 Z" fill="#000"/>
<path d="M1447.3,1042.5 L1453.0,1042.5" stroke="#000" stroke-width="2.43"/><path d="M1461.0,1042.5 L1453.0,1046.5 L1453.0,1038.5 Z" fill="#000"/>
<path d="M1498.0,1042.5 L1503.0,1042.5" stroke="#000" stroke-width="2.43"/><path d="M1511.0,1042.5 L1503.0,1046.2 L1503.0,1038.8 Z" fill="#000"/>
<path d="M1446.4,1050.0 L1453.0,1050.0" stroke="#000" stroke-width="2.43"/><path d="M1461.0,1050.0 L1453.0,1054.0 L1453.0,1046.0 Z" fill="#000"/>
<path d="M1497.6,1050.0 L1503.0,1050.0" stroke="#000" stroke-width="2.43"/><path d="M1511.0,1050.0 L1503.0,1053.7 L1503.0,1046.3 Z" fill="#000"/>
<path d="M1445.5,1057.5 L1453.0,1057.5" stroke="#000" stroke-width="2.43"/><path d="M1461.0,1057.5 L1453.0,1061.5 L1453.0,1053.5 Z" fill="#000"/>
<path d="M1497.2,1057.5 L1503.0,1057.5" stroke="#000" stroke-width="2.43"/><path d="M1511.0,1057.5 L1503.0,1061.2 L1503.0,1053.8 Z" fill="#000"/>
<path d="M1444.5,1065.0 L1453.0,1065.0" stroke="#000" stroke-width="2.43"/><path d="M1461.0,1065.0 L1453.0,1069.0 L1453.0,1061.0 Z" fill="#000"/>
<path d="M1496.8,1065.0 L1503.0,1065.0" stroke="#000" stroke-width="2.43"/><path d="M1511.0,1065.0 L1503.0,1068.7 L1503.0,1061.3 Z" fill="#000"/>
<path d="M1443.6,1072.5 L1453.0,1072.5" stroke="#000" stroke-width="2.43"/><path d="M1461.0,1072.5 L1453.0,1076.5 L1453.0,1068.5 Z" fill="#000"/>
<path d="M1496.4,1072.5 L1503.0,1072.5" stroke="#000" stroke-width="2.43"/><path d="M1511.0,1072.5 L1503.0,1076.2 L1503.0,1068.8 Z" fill="#000"/>
<path d="M1442.7,1080.0 L1453.0,1080.0" stroke="#000" stroke-width="2.43"/><path d="M1461.0,1080.0 L1453.0,1084.0 L1453.0,1076.0 Z" fill="#000"/>
<path d="M1496.0,1080.0 L1503.0,1080.0" stroke="#000" stroke-width="2.43"/><path d="M1511.0,1080.0 L1503.0,1083.7 L1503.0,1076.3 Z" fill="#000"/>
<path d="M1441.7,1087.5 L1453.0,1087.5" stroke="#000" stroke-width="2.43"/><path d="M1461.0,1087.5 L1453.0,1091.5 L1453.0,1083.5 Z" fill="#000"/>
<path d="M1495.6,1087.5 L1503.0,1087.5" stroke="#000" stroke-width="2.43"/><path d="M1511.0,1087.5 L1503.0,1091.2 L1503.0,1083.8 Z" fill="#000"/>
<path d="M1440.8,1095.0 L1453.0,1095.0" stroke="#000" stroke-width="2.43"/><path d="M1461.0,1095.0 L1453.0,1099.0 L1453.0,1091.0 Z" fill="#000"/>
<path d="M1495.2,1095.0 L1503.0,1095.0" stroke="#000" stroke-width="2.43"/><path d="M1511.0,1095.0 L1503.0,1098.7 L1503.0,1091.3 Z" fill="#000"/>
<path d="M1439.9,1102.5 L1453.0,1102.5" stroke="#000" stroke-width="2.43"/><path d="M1461.0,1102.5 L1453.0,1106.5 L1453.0,1098.5 Z" fill="#000"/>
<path d="M1494.8,1102.5 L1503.0,1102.5" stroke="#000" stroke-width="2.43"/><path d="M1511.0,1102.5 L1503.0,1106.2 L1503.0,1098.8 Z" fill="#000"/>
<path d="M1438.9,1110.0 L1453.0,1110.0" stroke="#000" stroke-width="2.43"/><path d="M1461.0,1110.0 L1453.0,1114.0 L1453.0,1106.0 Z" fill="#000"/>
<path d="M1494.4,1110.0 L1503.0,1110.0" stroke="#000" stroke-width="2.43"/><path d="M1511.0,1110.0 L1503.0,1113.7 L1503.0,1106.3 Z" fill="#000"/>
<path d="M1438.0,1117.5 L1453.0,1117.5" stroke="#000" stroke-width="2.43"/><path d="M1461.0,1117.5 L1453.0,1121.5 L1453.0,1113.5 Z" fill="#000"/>
<path d="M1494.0,1117.5 L1503.0,1117.5" stroke="#000" stroke-width="2.43"/><path d="M1511.0,1117.5 L1503.0,1121.2 L1503.0,1113.8 Z" fill="#000"/>
<path d="M1440.0,1124.0 L1481.7,1124.0" stroke="#000" stroke-width="2.9700000000000006"/><path d="M1492.0,1124.0 L1481.7,1128.4 L1481.7,1119.6 Z" fill="#000"/>
<path d="M1440.0,1130.8 L1481.7,1130.8" stroke="#000" stroke-width="2.9700000000000006"/><path d="M1492.0,1130.8 L1481.7,1135.2 L1481.7,1126.4 Z" fill="#000"/>
<path d="M1440.0,1137.6 L1481.7,1137.6" stroke="#000" stroke-width="2.9700000000000006"/><path d="M1492.0,1137.6 L1481.7,1142.0 L1481.7,1133.2 Z" fill="#000"/>
<path d="M1440.0,1144.4 L1481.7,1144.4" stroke="#000" stroke-width="2.9700000000000006"/><path d="M1492.0,1144.4 L1481.7,1148.8 L1481.7,1140.0 Z" fill="#000"/>
<path d="M1440.0,1151.2 L1481.7,1151.2" stroke="#000" stroke-width="2.9700000000000006"/><path d="M1492.0,1151.2 L1481.7,1155.6 L1481.7,1146.8 Z" fill="#000"/>
<path d="M1440.0,1158.0 L1481.7,1158.0" stroke="#000" stroke-width="2.9700000000000006"/><path d="M1492.0,1158.0 L1481.7,1162.4 L1481.7,1153.6 Z" fill="#000"/>
<path d="M1500.0,1180.0 L1500.0,1170.9" stroke="#000" stroke-width="1.89"/><path d="M1500.0,1164.0 L1503.0,1170.9 L1497.0,1170.9 Z" fill="#000"/>
<path d="M1510.0,1180.0 L1510.0,1170.9" stroke="#000" stroke-width="1.89"/><path d="M1510.0,1164.0 L1513.0,1170.9 L1507.0,1170.9 Z" fill="#000"/>
<path d="M1520.0,1180.0 L1520.0,1170.9" stroke="#000" stroke-width="1.89"/><path d="M1520.0,1164.0 L1523.0,1170.9 L1517.0,1170.9 Z" fill="#000"/>
<path d="M1530.0,1180.0 L1530.0,1170.9" stroke="#000" stroke-width="1.89"/><path d="M1530.0,1164.0 L1533.0,1170.9 L1527.0,1170.9 Z" fill="#000"/>
<path d="M1540.0,1180.0 L1540.0,1170.9" stroke="#000" stroke-width="1.89"/><path d="M1540.0,1164.0 L1543.0,1170.9 L1537.0,1170.9 Z" fill="#000"/>
<path d="M1549.0,1180.0 L1549.0,1170.9" stroke="#000" stroke-width="1.89"/><path d="M1549.0,1164.0 L1552.0,1170.9 L1546.0,1170.9 Z" fill="#000"/>
<path d="M1579.0,1005.0 L1579.0,1019.6" stroke="#000" stroke-width="2.0250000000000004"/><path d="M1579.0,1030.0 L1575.0,1019.6 L1583.0,1019.6 Z" fill="#000"/>
<path d="M1586.0,1005.0 L1586.0,1019.6" stroke="#000" stroke-width="2.0250000000000004"/><path d="M1586.0,1030.0 L1582.0,1019.6 L1590.0,1019.6 Z" fill="#000"/>
<path d="M1593.0,1005.0 L1593.0,1019.6" stroke="#000" stroke-width="2.0250000000000004"/><path d="M1593.0,1030.0 L1589.0,1019.6 L1597.0,1019.6 Z" fill="#000"/>
<path d="M1600.0,1005.0 L1600.0,1019.6" stroke="#000" stroke-width="2.0250000000000004"/><path d="M1600.0,1030.0 L1596.0,1019.6 L1604.0,1019.6 Z" fill="#000"/>
<path d="M1607.0,1005.0 L1607.0,1019.6" stroke="#000" stroke-width="2.0250000000000004"/><path d="M1607.0,1030.0 L1603.0,1019.6 L1611.0,1019.6 Z" fill="#000"/>
<path d="M1625.0,1003.0 L1615.8,1020.8" stroke="#000" stroke-width="2.0250000000000004"/><path d="M1611.0,1030.0 L1612.2,1018.9 L1619.4,1022.7 Z" fill="#000"/>
<path d="M1634.0,1038.0 L1622.0,1038.0" stroke="#000" stroke-width="2.16"/><path d="M1614.0,1038.0 L1622.0,1034.3 L1622.0,1041.7 Z" fill="#000"/>
<path d="M1634.0,1046.0 L1622.0,1046.0" stroke="#000" stroke-width="2.16"/><path d="M1614.0,1046.0 L1622.0,1042.3 L1622.0,1049.7 Z" fill="#000"/>
<path d="M1634.0,1054.0 L1622.0,1054.0" stroke="#000" stroke-width="2.16"/><path d="M1614.0,1054.0 L1622.0,1050.3 L1622.0,1057.7 Z" fill="#000"/>
<path d="M1634.0,1062.0 L1622.0,1062.0" stroke="#000" stroke-width="2.16"/><path d="M1614.0,1062.0 L1622.0,1058.3 L1622.0,1065.7 Z" fill="#000"/>
<path d="M1634.0,1070.0 L1622.0,1070.0" stroke="#000" stroke-width="2.16"/><path d="M1614.0,1070.0 L1622.0,1066.3 L1622.0,1073.7 Z" fill="#000"/>
<path d="M1634.0,1078.0 L1622.0,1078.0" stroke="#000" stroke-width="2.16"/><path d="M1614.0,1078.0 L1622.0,1074.3 L1622.0,1081.7 Z" fill="#000"/>
<path d="M1634.0,1086.0 L1622.0,1086.0" stroke="#000" stroke-width="2.16"/><path d="M1614.0,1086.0 L1622.0,1082.3 L1622.0,1089.7 Z" fill="#000"/>
<path d="M1634.0,1094.0 L1622.0,1094.0" stroke="#000" stroke-width="2.16"/><path d="M1614.0,1094.0 L1622.0,1090.3 L1622.0,1097.7 Z" fill="#000"/>
<path d="M1634.0,1102.0 L1622.0,1102.0" stroke="#000" stroke-width="2.16"/><path d="M1614.0,1102.0 L1622.0,1098.3 L1622.0,1105.7 Z" fill="#000"/>
<path d="M1634.0,1110.0 L1622.0,1110.0" stroke="#000" stroke-width="2.16"/><path d="M1614.0,1110.0 L1622.0,1106.3 L1622.0,1113.7 Z" fill="#000"/>
<path d="M1634.0,1118.0 L1622.0,1118.0" stroke="#000" stroke-width="2.16"/><path d="M1614.0,1118.0 L1622.0,1114.3 L1622.0,1121.7 Z" fill="#000"/>
<path d="M1634.0,1126.0 L1622.0,1126.0" stroke="#000" stroke-width="2.16"/><path d="M1614.0,1126.0 L1622.0,1122.3 L1622.0,1129.7 Z" fill="#000"/>
<path d="M1634.0,1134.0 L1622.0,1134.0" stroke="#000" stroke-width="2.16"/><path d="M1614.0,1134.0 L1622.0,1130.3 L1622.0,1137.7 Z" fill="#000"/>
<path d="M1634.0,1142.0 L1622.0,1142.0" stroke="#000" stroke-width="2.16"/><path d="M1614.0,1142.0 L1622.0,1138.3 L1622.0,1145.7 Z" fill="#000"/>
<path d="M1634.0,1150.0 L1622.0,1150.0" stroke="#000" stroke-width="2.16"/><path d="M1614.0,1150.0 L1622.0,1146.3 L1622.0,1153.7 Z" fill="#000"/>
<path d="M1634.0,1158.0 L1622.0,1158.0" stroke="#000" stroke-width="2.16"/><path d="M1614.0,1158.0 L1622.0,1154.3 L1622.0,1161.7 Z" fill="#000"/>
<path d="M1634.0,1166.0 L1622.0,1166.0" stroke="#000" stroke-width="2.16"/><path d="M1614.0,1166.0 L1622.0,1162.3 L1622.0,1169.7 Z" fill="#000"/>
<path d="M1634.0,1174.0 L1622.0,1174.0" stroke="#000" stroke-width="2.16"/><path d="M1614.0,1174.0 L1622.0,1170.3 L1622.0,1177.7 Z" fill="#000"/>
<path d="M1634.0,1182.0 L1622.0,1182.0" stroke="#000" stroke-width="2.16"/><path d="M1614.0,1182.0 L1622.0,1178.3 L1622.0,1185.7 Z" fill="#000"/>
<path d="M1634.0,1190.0 L1622.0,1190.0" stroke="#000" stroke-width="2.16"/><path d="M1614.0,1190.0 L1622.0,1186.3 L1622.0,1193.7 Z" fill="#000"/>
<path d="M1634.0,1198.0 L1622.0,1198.0" stroke="#000" stroke-width="2.16"/><path d="M1614.0,1198.0 L1622.0,1194.3 L1622.0,1201.7 Z" fill="#000"/>
<path d="M1634.0,1206.0 L1622.0,1206.0" stroke="#000" stroke-width="2.16"/><path d="M1614.0,1206.0 L1622.0,1202.3 L1622.0,1209.7 Z" fill="#000"/>
<path d="M1634.0,1214.0 L1622.0,1214.0" stroke="#000" stroke-width="2.16"/><path d="M1614.0,1214.0 L1622.0,1210.3 L1622.0,1217.7 Z" fill="#000"/>
<path d="M1634.0,1222.0 L1622.0,1222.0" stroke="#000" stroke-width="2.16"/><path d="M1614.0,1222.0 L1622.0,1218.3 L1622.0,1225.7 Z" fill="#000"/>
<path d="M1634.0,1230.0 L1622.0,1230.0" stroke="#000" stroke-width="2.16"/><path d="M1614.0,1230.0 L1622.0,1226.3 L1622.0,1233.7 Z" fill="#000"/>
<path d="M1634.0,1238.0 L1622.0,1238.0" stroke="#000" stroke-width="2.16"/><path d="M1614.0,1238.0 L1622.0,1234.3 L1622.0,1241.7 Z" fill="#000"/>
<path d="M1560.0,1040.0 L1564.2,1040.0" stroke="#000" stroke-width="1.4850000000000003"/><path d="M1570.0,1040.0 L1564.2,1042.7 L1564.2,1037.3 Z" fill="#000"/>
<path d="M1560.0,1049.0 L1564.2,1049.0" stroke="#000" stroke-width="1.4850000000000003"/><path d="M1570.0,1049.0 L1564.2,1051.7 L1564.2,1046.3 Z" fill="#000"/>
<path d="M1560.0,1058.0 L1564.2,1058.0" stroke="#000" stroke-width="1.4850000000000003"/><path d="M1570.0,1058.0 L1564.2,1060.7 L1564.2,1055.3 Z" fill="#000"/>
<path d="M1560.0,1067.0 L1564.2,1067.0" stroke="#000" stroke-width="1.4850000000000003"/><path d="M1570.0,1067.0 L1564.2,1069.7 L1564.2,1064.3 Z" fill="#000"/>
<path d="M1560.0,1076.0 L1564.2,1076.0" stroke="#000" stroke-width="1.4850000000000003"/><path d="M1570.0,1076.0 L1564.2,1078.7 L1564.2,1073.3 Z" fill="#000"/>
<path d="M1560.0,1085.0 L1564.2,1085.0" stroke="#000" stroke-width="1.4850000000000003"/><path d="M1570.0,1085.0 L1564.2,1087.7 L1564.2,1082.3 Z" fill="#000"/>
<path d="M1560.0,1094.0 L1564.2,1094.0" stroke="#000" stroke-width="1.4850000000000003"/><path d="M1570.0,1094.0 L1564.2,1096.7 L1564.2,1091.3 Z" fill="#000"/>
<path d="M1560.0,1103.0 L1564.2,1103.0" stroke="#000" stroke-width="1.4850000000000003"/><path d="M1570.0,1103.0 L1564.2,1105.7 L1564.2,1100.3 Z" fill="#000"/>
<path d="M1560.0,1112.0 L1564.2,1112.0" stroke="#000" stroke-width="1.4850000000000003"/><path d="M1570.0,1112.0 L1564.2,1114.7 L1564.2,1109.3 Z" fill="#000"/>
<path d="M1560.0,1121.0 L1564.2,1121.0" stroke="#000" stroke-width="1.4850000000000003"/><path d="M1570.0,1121.0 L1564.2,1123.7 L1564.2,1118.3 Z" fill="#000"/>
<path d="M1560.0,1130.0 L1564.2,1130.0" stroke="#000" stroke-width="1.4850000000000003"/><path d="M1570.0,1130.0 L1564.2,1132.7 L1564.2,1127.3 Z" fill="#000"/>
<path d="M1560.0,1139.0 L1564.2,1139.0" stroke="#000" stroke-width="1.4850000000000003"/><path d="M1570.0,1139.0 L1564.2,1141.7 L1564.2,1136.3 Z" fill="#000"/>
<path d="M1560.0,1148.0 L1564.2,1148.0" stroke="#000" stroke-width="1.4850000000000003"/><path d="M1570.0,1148.0 L1564.2,1150.7 L1564.2,1145.3 Z" fill="#000"/>
<path d="M1517.0,957.2 L1470.0,957.2" stroke="#000" stroke-width="1.8" stroke-opacity="0.5"/><path d="M1456.0,957.2 L1470.0,951.7 L1470.0,962.7 Z" fill="#000"/>
<path d="M1517.0,1211.5 L1470.0,1211.5" stroke="#000" stroke-width="1.8" stroke-opacity="0.8"/><path d="M1456.0,1211.5 L1470.0,1206.0 L1470.0,1217.0 Z" fill="#000"/>
</g>
<rect x="56.5" y="774.5" width="367.0" height="555.0" fill="none" stroke="#4a6080" stroke-width="2.8"/>
<rect x="460.5" y="777.0" width="367.5" height="554.0" fill="none" stroke="#3d6e78" stroke-width="2.8"/>
<rect x="861.8" y="772.8" width="366.4000000000001" height="554.7" fill="none" stroke="#4a6a8e" stroke-width="2.8"/>
<rect x="1264.0" y="774.2" width="367.79999999999995" height="554.2" fill="none" stroke="#3d6488" stroke-width="2.8"/>
<g font-family="'Liberation Sans', Arial, sans-serif" font-size="46.5px" fill="#000" stroke="#000" stroke-width="0.7"><text x="70.5" y="824.4" letter-spacing="1.2">(b)</text><text x="476.1" y="824.2">(c)</text><text x="919.7" y="817.1">(d)</text><text x="1312.3" y="819.2">(e)</text></g>
<g font-family="'DejaVu Serif', serif" font-style="italic">
<text x="368.7" y="835.3" font-size="59.5px" fill="#1e8ee4" stroke="#1e8ee4" stroke-width="0.6">f</text><text x="392.5" y="846.2" font-size="39px" fill="#1e8ee4" stroke="#1e8ee4" stroke-width="0.6">b</text>
<text x="773" y="834" font-size="58.2px" fill="#0a0a0a" stroke="#0a0a0a" stroke-width="0.6">f</text><text x="796.2" y="845.8" font-size="40px" fill="#0a0a0a" stroke="#0a0a0a" stroke-width="0.6">d</text>
<text x="1156" y="833.7" font-size="60px" fill="#186a9a" stroke="#186a9a" stroke-width="0.6">f</text><text x="1191.6" y="810.1" font-size="40px" fill="#186a9a" font-style="normal" stroke="#186a9a" stroke-width="0.6">−</text>
<text x="1561.6" y="831" font-size="60px" fill="#186a9a" stroke="#186a9a" stroke-width="0.6">f</text><text x="1595.4" y="807" font-size="41.5px" fill="#186a9a" font-style="normal" stroke="#186a9a" stroke-width="0.6">+</text>
</g>
<rect x="75.5" y="1377" width="343.5" height="16" fill="url(#jetg)"/>
<rect x="457" y="1379" width="344.5" height="13" fill="url(#jetg)"/>
<rect x="848.5" y="1373.5" width="382.5" height="17.5" fill="url(#jetg)"/>
<rect x="848.5" y="1373.5" width="382.5" height="17.5" fill="none" stroke="#3c9a3c" stroke-width="1.5"/>
<path d="M936,1373.5 v3 M936,1391 v-3 M997,1373.5 v3 M997,1391 v-3 M1058,1373.5 v3 M1058,1391 v-3 M1119,1373.5 v3 M1119,1391 v-3 M1180,1373.5 v3 M1180,1391 v-3" stroke="#222" stroke-width="1.2"/>
<rect x="1261.5" y="1375.3" width="381.79999999999995" height="16.100000000000136" fill="url(#jetg)"/>
<path d="M1339.5,1375.3 v3 M1339.5,1391.4 v-3 M1398.6,1375.3 v3 M1398.6,1391.4 v-3 M1457.8,1375.3 v3 M1457.8,1391.4 v-3 M1514.3,1375.3 v3 M1514.3,1391.4 v-3 M1573.4,1375.3 v3 M1573.4,1391.4 v-3" stroke="#222" stroke-width="1.2"/>
<g font-family="'Liberation Sans', Arial, sans-serif" font-size="31px" fill="#000" stroke="#000" stroke-width="0.5">
<text x="53.9" y="1364">10</text><text x="89.3" y="1353.8" font-size="20px">7</text><text x="108.4" y="1364">V/m</text>
<text x="444.5" y="1362.3">10</text><text x="479.9" y="1352.1" font-size="20px">7</text><text x="499.0" y="1362.3">V/m</text>
<text x="852.1" y="1363.5">10</text><text x="887.5" y="1353.3" font-size="20px">7</text><text x="906.6" y="1363.5">V/m</text>
<text x="1260.5" y="1364.5">10</text><text x="1295.9" y="1354.3" font-size="20px">7</text><text x="1315.0" y="1364.5">V/m</text>
</g>
<g font-family="'Liberation Sans', Arial, sans-serif" font-size="28.5px" fill="#000" stroke="#000" stroke-width="0.5">
<text x="96.6" y="1417.8">−1</text>
<text x="252.9" y="1424.5">0</text>
<text x="403.6" y="1424.5">1</text>
<text x="442.9" y="1425.8">−2</text>
<text x="611.8" y="1424">0</text>
<text x="770" y="1424">2</text>
<text x="844.2" y="1423.2">−1</text>
<text x="1051.5" y="1423.2">0</text>
<text x="1220.8" y="1423.2">1</text>
<text x="1250.6" y="1423.7">−1.5</text>
<text x="1441.1" y="1422.3">0</text>
<text x="1610.2" y="1421">1.5</text>
</g>
<g fill="none" stroke-width="5.1" stroke-linejoin="round" stroke-linecap="round" clip-path="url(#plotclip)">
<path d="M447.3,57.6 L488.4,58.4 L522.8,59.3 L553.0,60.4 L579.0,61.8 L601.6,63.4 L621.8,65.3 L638.5,67.4 L653.6,70.0 L660.3,71.4 L667.0,73.0 L672.9,74.7 L678.8,76.5 L684.7,78.7 L689.7,80.8 L694.7,83.3 L698.9,85.6 L703.1,88.2 L707.3,91.1 L711.5,94.5 L714.8,97.5 L718.2,100.9 L721.6,104.8 L724.9,109.2 L727.4,112.8 L730.8,118.3 L733.3,123.0 L735.8,128.1 L738.3,133.9 L742.5,145.2 L746.7,158.9 L749.2,168.6 L750.9,175.8 L754.3,192.4 L757.6,212.2 L760.1,229.7 L762.7,249.9 L765.2,273.1 L767.7,299.8 L770.2,330.1 L774.4,388.9 L781.9,506.9 L784.5,540.0 L786.1,557.3 L787.8,569.6 L788.7,573.8 L789.5,576.7 L790.3,578.3 L791.2,578.8 L792.0,578.1 L792.8,576.6 L794.5,571.4 L796.2,564.5 L801.2,541.4 L802.9,533.0 L804.6,523.2 L807.1,503.9 L808.8,487.0 L811.3,456.1 L819.7,334.8 L823.9,282.2 L826.4,255.5 L828.9,232.4 L831.4,212.4 L833.9,195.2 L836.5,180.4 L839.8,163.7 L843.2,149.9 L844.8,143.9 L847.4,135.8 L849.0,131.0 L851.6,124.5 L855.8,115.2 L858.3,110.5 L860.8,106.3 L863.3,102.5 L865.8,99.1 L869.2,95.1 L872.5,91.5 L875.9,88.4 L879.2,85.7 L882.6,83.2 L886.8,80.5 L891.0,78.2 L896.0,75.8 L901.0,73.7 L906.1,71.9 L911.9,70.1 L917.8,68.5 L924.5,67.0 L931.2,65.7 L946.3,63.4 L963.1,61.6 L983.2,60.0 L1005.9,58.8 L1032.7,57.8 L1063.8,57.1 L1101.5,56.5 L1146.8,56.0 L1201.3,55.7" stroke="#12d81a"/>
<path d="M447.3,134.2 L456.5,140.8 L464.9,147.3 L473.3,154.3 L480.8,161.0 L488.4,168.3 L495.9,176.1 L503.5,184.5 L510.2,192.6 L516.9,201.3 L523.6,210.6 L530.3,220.6 L536.2,230.0 L542.1,240.1 L547.9,250.8 L553.8,262.3 L559.7,274.5 L564.7,285.7 L569.8,297.6 L574.8,310.1 L579.8,323.3 L584.8,337.3 L589.9,352.1 L594.9,367.6 L599.9,383.9 L608.3,412.8 L617.6,446.7 L625.9,479.2 L642.7,545.7 L649.4,571.3 L656.1,595.2 L659.5,606.2 L662.8,616.5 L667.0,628.0 L670.4,636.2 L673.8,643.2 L677.1,649.0 L678.8,651.4 L680.5,653.4 L682.1,655.2 L683.8,656.6 L685.5,657.6 L687.2,658.3 L689.7,658.6 L691.4,658.4 L693.0,657.8 L694.7,656.8 L696.4,655.5 L698.1,653.8 L699.8,651.8 L703.1,646.8 L706.5,640.4 L709.8,632.9 L713.2,624.2 L717.4,611.9 L723.2,592.5 L729.9,567.9 L736.7,541.5 L758.5,453.2 L766.0,424.1 L772.7,399.6 L780.3,373.6 L787.8,349.5 L795.4,327.2 L802.9,306.8 L810.5,288.2 L818.8,269.3 L827.2,252.3 L835.6,237.0 L839.8,229.9 L844.8,221.9 L849.0,215.5 L854.1,208.3 L863.3,196.2 L868.3,190.1 L873.4,184.4 L880.1,177.2 L887.6,169.7 L895.2,162.9 L902.7,156.5 L911.1,150.0 L919.5,144.1 L927.9,138.6 L937.1,133.0 L946.3,127.9 L956.4,122.7 L966.5,118.0 L977.4,113.3 L988.3,109.0 L1000.0,104.8 L1011.8,101.0 L1023.5,97.5 L1035.2,94.4 L1047.8,91.4 L1060.4,88.8 L1072.1,86.8 L1083.9,85.1 L1095.6,83.7 L1107.4,82.8 L1118.3,82.2 L1129.2,82.1 L1140.1,82.4 L1151.0,83.1 L1161.0,84.1 L1171.1,85.5 L1181.2,87.3 L1191.2,89.6 L1201.3,92.2" stroke="#12a0ea"/>
<path d="M447.3,199.2 L454.0,195.6 L458.2,193.7 L462.4,192.4 L465.8,192.0 L468.3,192.0 L469.9,192.2 L472.5,192.8 L474.1,193.3 L476.7,194.5 L478.3,195.5 L481.7,198.0 L485.9,202.2 L489.2,206.3 L493.4,212.7 L496.8,218.8 L500.1,225.9 L503.5,234.0 L506.8,243.2 L510.2,253.6 L513.6,265.3 L516.1,275.0 L521.1,296.9 L524.5,313.5 L527.0,327.1 L532.0,357.1 L536.2,385.1 L541.2,422.1 L553.8,523.0 L557.2,548.8 L560.5,572.3 L563.0,587.6 L564.7,596.6 L566.4,604.3 L568.9,613.4 L570.6,617.7 L571.4,619.2 L572.3,620.4 L573.1,621.1 L573.9,621.5 L574.8,621.5 L575.6,621.0 L576.5,620.2 L577.3,619.0 L579.0,615.4 L580.7,610.4 L582.3,603.9 L584.0,596.2 L587.4,577.5 L589.9,561.0 L593.2,536.8 L605.8,438.3 L611.7,395.2 L615.0,372.5 L618.4,351.3 L620.9,336.4 L624.3,318.0 L627.6,301.1 L631.0,285.7 L634.3,271.6 L637.7,258.8 L641.0,247.1 L644.4,236.5 L647.8,226.9 L651.9,216.2 L657.0,205.0 L662.0,195.4 L664.5,191.1 L667.9,185.9 L670.4,182.4 L673.8,178.1 L676.3,175.2 L679.6,171.8 L683.0,168.7 L686.3,166.0 L689.7,163.7 L693.0,161.7 L696.4,160.0 L699.8,158.7 L703.1,157.6 L706.5,156.8 L709.8,156.3 L714.0,156.0 L717.4,156.0 L721.6,156.4 L724.9,156.9 L729.1,158.0 L733.3,159.4 L736.7,160.8 L740.8,162.9 L744.2,164.8 L748.4,167.5 L751.8,170.0 L755.9,173.4 L759.3,176.4 L763.5,180.6 L767.7,185.1 L771.9,190.1 L775.2,194.5 L779.4,200.3 L782.8,205.3 L787.0,212.1 L790.3,217.8 L794.5,225.5 L797.9,232.1 L804.6,246.4 L811.3,262.3 L818.0,279.9 L824.7,299.3 L831.4,320.5 L838.1,343.5 L845.7,371.4 L852.4,398.0 L859.1,426.0 L880.1,517.7 L887.6,549.8 L895.2,579.6 L898.5,591.9 L901.9,603.3 L906.1,616.4 L910.3,627.9 L914.5,637.8 L917.0,642.8 L918.7,645.8 L921.2,649.8 L922.8,652.0 L924.5,654.0 L926.2,655.6 L927.9,657.0 L930.4,658.4 L932.1,659.0 L934.6,659.4 L936.3,659.2 L937.9,658.8 L939.6,658.1 L941.3,657.1 L944.7,654.4 L948.0,650.7 L951.4,646.1 L954.7,640.7 L958.1,634.6 L962.3,625.9 L969.0,610.4 L975.7,593.2 L983.2,572.6 L1000.8,523.1 L1010.1,497.7 L1019.3,473.5 L1028.5,450.7 L1034.4,437.0 L1039.4,425.7 L1044.5,414.9 L1050.3,403.0 L1055.4,393.2 L1061.2,382.4 L1066.3,373.5 L1072.1,363.8 L1077.2,355.8 L1083.0,346.9 L1088.9,338.5 L1094.8,330.4 L1102.3,320.4 L1122.5,294.5 L1144.3,264.9 L1149.3,258.7 L1153.5,254.0 L1157.7,249.8 L1161.9,246.2 L1166.9,242.4 L1171.9,239.3 L1177.8,236.1 L1184.5,232.9 L1192.1,229.7 L1201.3,226.1" stroke="#ee0a0a"/>
</g>
<rect x="447.3" y="56.0" width="754.0" height="607.0" fill="none" stroke="#000" stroke-width="4.8"/>
<path d="M436.8,663.0 H447.3 M1201.3,663.0 H1188.8 M441.8,632.6 H447.3 M1201.3,632.6 H1193.8 M436.8,602.3 H447.3 M1201.3,602.3 H1188.8 M441.8,572.0 H447.3 M1201.3,572.0 H1193.8 M436.8,541.6 H447.3 M1201.3,541.6 H1188.8 M441.8,511.2 H447.3 M1201.3,511.2 H1193.8 M436.8,480.9 H447.3 M1201.3,480.9 H1188.8 M441.8,450.5 H447.3 M1201.3,450.5 H1193.8 M436.8,420.2 H447.3 M1201.3,420.2 H1188.8 M441.8,389.8 H447.3 M1201.3,389.8 H1193.8 M436.8,359.5 H447.3 M1201.3,359.5 H1188.8 M441.8,329.1 H447.3 M1201.3,329.1 H1193.8 M436.8,298.8 H447.3 M1201.3,298.8 H1188.8 M441.8,268.4 H447.3 M1201.3,268.4 H1193.8 M436.8,238.1 H447.3 M1201.3,238.1 H1188.8 M441.8,207.8 H447.3 M1201.3,207.8 H1193.8 M436.8,177.4 H447.3 M1201.3,177.4 H1188.8 M441.8,147.0 H447.3 M1201.3,147.0 H1193.8 M436.8,116.7 H447.3 M1201.3,116.7 H1188.8 M441.8,86.3 H447.3 M1201.3,86.3 H1193.8 M436.8,56.0 H447.3 M1201.3,56.0 H1188.8 M447.3,663.0 V673.5 M447.3,56.0 V68.5 M541.5,663.0 V668.5 M541.5,56.0 V63.5 M635.8,663.0 V673.5 M635.8,56.0 V68.5 M730.1,663.0 V668.5 M730.1,56.0 V63.5 M824.3,663.0 V673.5 M824.3,56.0 V68.5 M918.5,663.0 V668.5 M918.5,56.0 V63.5 M1012.8,663.0 V673.5 M1012.8,56.0 V68.5 M1107.0,663.0 V668.5 M1107.0,56.0 V63.5 M1201.3,663.0 V673.5 M1201.3,56.0 V68.5" stroke="#000" stroke-width="4.5" fill="none"/>
<g font-family="'Liberation Sans', Arial, sans-serif" font-weight="bold" font-size="31.5px" fill="#000" stroke="#000" stroke-width="0.4">
<text x="426" y="672.8" text-anchor="end">0.0</text>
<text x="426" y="612.1" text-anchor="end">0.1</text>
<text x="426" y="551.4" text-anchor="end">0.2</text>
<text x="426" y="490.7" text-anchor="end">0.3</text>
<text x="426" y="430.0" text-anchor="end">0.4</text>
<text x="426" y="369.3" text-anchor="end">0.5</text>
<text x="426" y="308.6" text-anchor="end">0.6</text>
<text x="426" y="247.9" text-anchor="end">0.7</text>
<text x="426" y="187.2" text-anchor="end">0.8</text>
<text x="426" y="126.5" text-anchor="end">0.9</text>
<text x="426" y="65.8" text-anchor="end">1.0</text>
<text x="447.3" y="708" text-anchor="middle">0.4</text>
<text x="635.8" y="708" text-anchor="middle">0.5</text>
<text x="824.3" y="708" text-anchor="middle">0.6</text>
<text x="1012.8" y="708" text-anchor="middle">0.7</text>
<text x="1201.3" y="708" text-anchor="middle">0.8</text>
</g>
<text x="824.5" y="768" text-anchor="middle" font-family="'Liberation Sans', Arial, sans-serif" font-size="40.6px" stroke="#000" stroke-width="0.6">Frequency (THz)</text>
<text transform="translate(361.4,336) rotate(-90)" text-anchor="middle" font-family="'Liberation Sans', Arial, sans-serif" font-size="40px" stroke="#000" stroke-width="0.6">Transmission</text>
<text x="442.2" y="106.5" font-family="'Liberation Sans', Arial, sans-serif" font-size="46.6px" stroke="#000" stroke-width="0.7">(a)</text>
<g stroke-width="5" stroke-linecap="round"><path d="M877.5,198.5 H941.5" stroke="#ee0a0a"/><path d="M877.5,233.3 H941.5" stroke="#12d81a"/><path d="M877.5,266.6 H941.5" stroke="#12a0ea"/></g>
<g font-family="'Liberation Sans', Arial, sans-serif" font-weight="bold" font-size="24.5px" letter-spacing="0.45"><text x="947" y="207.3">Coupled Resoantors</text><text x="947" y="240.4">Upper Resonator</text><text x="947" y="275.3">Lower Resonator</text></g>
<g font-family="'DejaVu Serif', serif" font-style="italic">
<text x="495.4" y="608.8" font-size="45.5px" fill="#e8101e" stroke="#e8101e" stroke-width="0.6">f</text>
<text x="521.6" y="590.3" font-size="30px" fill="#e8101e" font-style="normal" stroke="#e8101e" stroke-width="0.6">−</text>
<text x="665.2" y="581" font-size="44.2px" fill="#1e96dc" stroke="#1e96dc" stroke-width="0.6">f</text>
<text x="681.5" y="588.5" font-size="29px" fill="#1e96dc" stroke="#1e96dc" stroke-width="0.6">b</text>
<text x="782.2" y="620.1" font-size="44.6px" fill="#6a8c3c" stroke="#6a8c3c" stroke-width="0.6">f</text>
<text x="798.3" y="626.7" font-size="33px" fill="#6a8c3c" stroke="#6a8c3c" stroke-width="0.6">d</text>
<text x="918.2" y="619.1" font-size="43.2px" fill="#e8101e" stroke="#e8101e" stroke-width="0.6">f</text>
<text x="943.7" y="602.3" font-size="28px" fill="#e8101e" font-style="normal" stroke="#e8101e" stroke-width="0.6">+</text>
</g>
<text x="1024.5" y="632" font-family="'Liberation Sans', Arial, sans-serif" font-size="39px" stroke="#000" stroke-width="0.6"><tspan font-style="italic">T</tspan>=4.5 K</text></g></svg></body></html>
